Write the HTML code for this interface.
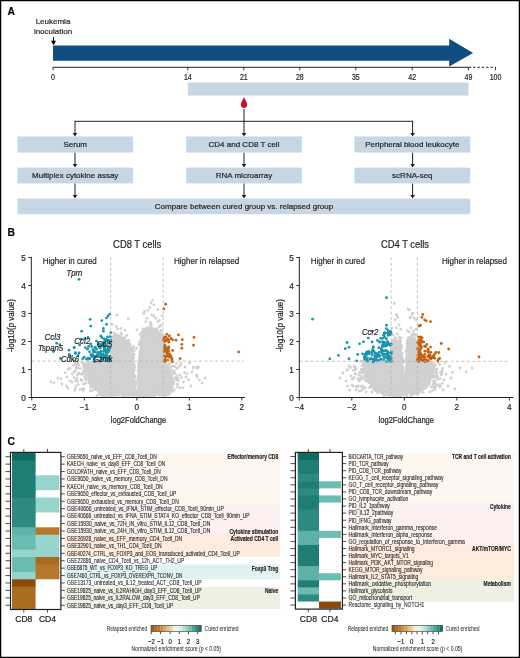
<!DOCTYPE html>
<html><head><meta charset="utf-8"><style>
html,body{margin:0;padding:0;background:#fff;}
svg{display:block;will-change:transform;font-family:"Liberation Sans", sans-serif;}
text{stroke:#231f20;stroke-width:0.2px;}
</style></head><body>
<svg width="520" height="658" viewBox="0 0 520 658">
<rect x="0.6" y="0.6" width="518.8" height="656.8" fill="none" stroke="#000" stroke-width="1.3"/>
<text x="7.5" y="14.6" font-size="10.3" text-anchor="start" font-weight="bold" font-style="normal" fill="#000" >A</text>
<text x="53" y="24.4" font-size="8" text-anchor="middle" font-weight="normal" font-style="normal" fill="#231f20" >Leukemia</text>
<text x="53" y="34.1" font-size="8" text-anchor="middle" font-weight="normal" font-style="normal" fill="#231f20" >inoculation</text>
<line x1="53.5" y1="37.2" x2="53.5" y2="42" stroke="#000" stroke-width="1"/>
<path d="M51,40.7 L56,40.7 L53.5,45.2 Z" fill="#000"/>
<path d="M53,45.4 L449.2,45.4 L449.2,38.8 L473.1,53 L449.2,66.6 L449.2,60.8 L53,60.8 Z" fill="#104e81"/>
<line x1="53" y1="67.3" x2="468.6" y2="67.3" stroke="#231f20" stroke-width="1"/>
<line x1="468.6" y1="67.3" x2="495.5" y2="67.3" stroke="#231f20" stroke-width="1" stroke-dasharray="2.4,2"/>
<line x1="53" y1="67" x2="53" y2="70.3" stroke="#231f20" stroke-width="0.9"/>
<text x="53" y="80" font-size="8.6" text-anchor="middle" font-weight="normal" font-style="normal" fill="#231f20" textLength="3.9" lengthAdjust="spacingAndGlyphs" >0</text>
<line x1="187.8" y1="67" x2="187.8" y2="70.3" stroke="#231f20" stroke-width="0.9"/>
<text x="187.8" y="80" font-size="8.6" text-anchor="middle" font-weight="normal" font-style="normal" fill="#231f20" textLength="7.8" lengthAdjust="spacingAndGlyphs" >14</text>
<line x1="243.8" y1="67" x2="243.8" y2="70.3" stroke="#231f20" stroke-width="0.9"/>
<text x="243.8" y="80" font-size="8.6" text-anchor="middle" font-weight="normal" font-style="normal" fill="#231f20" textLength="7.8" lengthAdjust="spacingAndGlyphs" >21</text>
<line x1="299.8" y1="67" x2="299.8" y2="70.3" stroke="#231f20" stroke-width="0.9"/>
<text x="299.8" y="80" font-size="8.6" text-anchor="middle" font-weight="normal" font-style="normal" fill="#231f20" textLength="7.8" lengthAdjust="spacingAndGlyphs" >28</text>
<line x1="355.8" y1="67" x2="355.8" y2="70.3" stroke="#231f20" stroke-width="0.9"/>
<text x="355.8" y="80" font-size="8.6" text-anchor="middle" font-weight="normal" font-style="normal" fill="#231f20" textLength="7.8" lengthAdjust="spacingAndGlyphs" >35</text>
<line x1="412.2" y1="67" x2="412.2" y2="70.3" stroke="#231f20" stroke-width="0.9"/>
<text x="412.2" y="80" font-size="8.6" text-anchor="middle" font-weight="normal" font-style="normal" fill="#231f20" textLength="7.8" lengthAdjust="spacingAndGlyphs" >42</text>
<line x1="468.4" y1="67" x2="468.4" y2="70.3" stroke="#231f20" stroke-width="0.9"/>
<text x="468.4" y="80" font-size="8.6" text-anchor="middle" font-weight="normal" font-style="normal" fill="#231f20" textLength="7.8" lengthAdjust="spacingAndGlyphs" >49</text>
<line x1="495.5" y1="67" x2="495.5" y2="70.3" stroke="#231f20" stroke-width="0.9"/>
<text x="495.5" y="80" font-size="8.6" text-anchor="middle" font-weight="normal" font-style="normal" fill="#231f20" textLength="11.7" lengthAdjust="spacingAndGlyphs" >100</text>
<rect x="187.8" y="82.5" width="280.6" height="13" fill="#c6d6e3"/>
<path d="M244,97 C244.9,100 247.2,102.2 247.2,104.8 C247.2,106.8 245.8,108 244,108 C242.2,108 240.8,106.8 240.8,104.8 C240.8,102.2 243.1,100 244,97 Z" fill="#c8102e"/>
<line x1="244" y1="109" x2="244" y2="121.3" stroke="#231f20" stroke-width="1"/>
<line x1="75" y1="121.3" x2="412.6" y2="121.3" stroke="#231f20" stroke-width="1"/>
<line x1="75" y1="120.8" x2="75" y2="133.5" stroke="#231f20" stroke-width="1"/>
<path d="M72.7,132.9 L77.3,132.9 L75,136.5 Z" fill="#231f20"/>
<line x1="75" y1="152.5" x2="75" y2="164.6" stroke="#231f20" stroke-width="1"/>
<path d="M72.7,164.0 L77.3,164.0 L75,167.6 Z" fill="#231f20"/>
<line x1="75" y1="183.4" x2="75" y2="195.6" stroke="#231f20" stroke-width="1"/>
<path d="M72.7,195.0 L77.3,195.0 L75,198.6 Z" fill="#231f20"/>
<line x1="244" y1="120.8" x2="244" y2="133.5" stroke="#231f20" stroke-width="1"/>
<path d="M241.7,132.9 L246.3,132.9 L244,136.5 Z" fill="#231f20"/>
<line x1="244" y1="152.5" x2="244" y2="164.6" stroke="#231f20" stroke-width="1"/>
<path d="M241.7,164.0 L246.3,164.0 L244,167.6 Z" fill="#231f20"/>
<line x1="244" y1="183.4" x2="244" y2="195.6" stroke="#231f20" stroke-width="1"/>
<path d="M241.7,195.0 L246.3,195.0 L244,198.6 Z" fill="#231f20"/>
<line x1="412.6" y1="120.8" x2="412.6" y2="133.5" stroke="#231f20" stroke-width="1"/>
<path d="M410.3,132.9 L414.90000000000003,132.9 L412.6,136.5 Z" fill="#231f20"/>
<line x1="412.6" y1="152.5" x2="412.6" y2="164.6" stroke="#231f20" stroke-width="1"/>
<path d="M410.3,164.0 L414.90000000000003,164.0 L412.6,167.6 Z" fill="#231f20"/>
<line x1="412.6" y1="183.4" x2="412.6" y2="195.6" stroke="#231f20" stroke-width="1"/>
<path d="M410.3,195.0 L414.90000000000003,195.0 L412.6,198.6 Z" fill="#231f20"/>
<rect x="17.5" y="136.5" width="115.5" height="16.0" fill="#c6d6e3"/>
<text x="75.25" y="147.4" font-size="8" text-anchor="middle" font-weight="normal" font-style="normal" fill="#231f20" >Serum</text>
<rect x="186.2" y="136.5" width="115.60000000000002" height="16.0" fill="#c6d6e3"/>
<text x="244.0" y="147.4" font-size="8" text-anchor="middle" font-weight="normal" font-style="normal" fill="#231f20" >CD4 and CD8 T cell</text>
<rect x="354.5" y="136.5" width="115.69999999999999" height="16.0" fill="#c6d6e3"/>
<text x="412.35" y="147.4" font-size="8" text-anchor="middle" font-weight="normal" font-style="normal" fill="#231f20" >Peripheral blood leukocyte</text>
<rect x="17.5" y="167.6" width="115.5" height="15.800000000000011" fill="#c6d6e3"/>
<text x="75.25" y="178.4" font-size="8" text-anchor="middle" font-weight="normal" font-style="normal" fill="#231f20" >Multiplex cytokine assay</text>
<rect x="186.2" y="167.6" width="115.60000000000002" height="15.800000000000011" fill="#c6d6e3"/>
<text x="244.0" y="178.4" font-size="8" text-anchor="middle" font-weight="normal" font-style="normal" fill="#231f20" >RNA microarray</text>
<rect x="354.5" y="167.6" width="115.69999999999999" height="15.800000000000011" fill="#c6d6e3"/>
<text x="412.35" y="178.4" font-size="8" text-anchor="middle" font-weight="normal" font-style="normal" fill="#231f20" >scRNA-seq</text>
<rect x="17.5" y="198.6" width="452.7" height="15.6" fill="#c6d6e3"/>
<text x="244" y="209.3" font-size="8" text-anchor="middle" font-weight="normal" font-style="normal" fill="#231f20" >Compare between cured group vs. relapsed group</text>
<text x="7.5" y="236.0" font-size="10.3" text-anchor="start" font-weight="bold" font-style="normal" fill="#000" >B</text>
<g fill="#d1d1d1">
<polygon points="104,395 96,387 89,378 85.5,368 89,362.5 104,362 109,358 111,348 113,340 116,337 122.8,339.5 127.9,342.1 131.1,348.6 133.2,357 134.4,366.7 135.7,387.3 136.3,389 137.2,389 137.6,366.7 139,360 139.8,348 141,338 143.5,331 148,328.5 153,329 157.5,332 162.6,336 162.8,361.5 166.7,369.3 171.8,379.6 170.5,392.5 164,394 140.8,395.5 115,394 100,395"/>
<circle cx="87.0" cy="374.6" r="1.4"/><circle cx="89.8" cy="379.4" r="1.4"/><circle cx="137.8" cy="378.9" r="1.4"/><circle cx="137.6" cy="381.6" r="1.4"/><circle cx="111.8" cy="337.8" r="1.4"/><circle cx="144.2" cy="331.1" r="1.4"/><circle cx="93.2" cy="382.0" r="1.4"/><circle cx="101.7" cy="362.7" r="1.4"/><circle cx="162.7" cy="395.3" r="1.4"/><circle cx="161.8" cy="340.3" r="1.4"/><circle cx="89.7" cy="378.3" r="1.4"/><circle cx="162.0" cy="354.8" r="1.4"/><circle cx="148.3" cy="328.9" r="1.4"/><circle cx="169.5" cy="392.0" r="1.4"/><circle cx="143.5" cy="329.6" r="1.4"/><circle cx="166.8" cy="373.7" r="1.4"/><circle cx="90.2" cy="363.2" r="1.4"/><circle cx="103.6" cy="362.0" r="1.4"/><circle cx="162.8" cy="348.7" r="1.4"/><circle cx="151.3" cy="328.4" r="1.4"/><circle cx="154.6" cy="394.3" r="1.4"/><circle cx="164.1" cy="349.1" r="1.4"/><circle cx="129.3" cy="348.1" r="1.4"/><circle cx="97.7" cy="389.4" r="1.4"/><circle cx="92.9" cy="363.0" r="1.4"/><circle cx="95.8" cy="363.3" r="1.4"/><circle cx="143.2" cy="395.9" r="1.4"/><circle cx="142.6" cy="336.1" r="1.4"/><circle cx="144.7" cy="396.3" r="1.4"/><circle cx="103.8" cy="362.7" r="1.4"/><circle cx="114.8" cy="337.2" r="1.4"/><circle cx="126.9" cy="341.1" r="1.4"/><circle cx="132.8" cy="376.1" r="1.4"/><circle cx="161.4" cy="357.9" r="1.4"/><circle cx="172.2" cy="386.8" r="1.4"/><circle cx="135.2" cy="385.7" r="1.4"/><circle cx="163.0" cy="337.9" r="1.4"/><circle cx="112.4" cy="345.1" r="1.4"/><circle cx="91.9" cy="381.0" r="1.4"/><circle cx="87.1" cy="365.4" r="1.4"/><circle cx="140.8" cy="395.1" r="1.4"/><circle cx="121.9" cy="340.2" r="1.4"/><circle cx="86.9" cy="365.7" r="1.4"/><circle cx="157.6" cy="394.6" r="1.4"/><circle cx="113.1" cy="394.0" r="1.4"/><circle cx="142.0" cy="339.7" r="1.4"/><circle cx="104.7" cy="393.6" r="1.4"/><circle cx="124.9" cy="341.3" r="1.4"/><circle cx="169.5" cy="384.8" r="1.4"/><circle cx="134.2" cy="364.7" r="1.4"/><circle cx="102.5" cy="393.5" r="1.4"/><circle cx="161.3" cy="393.5" r="1.4"/><circle cx="96.7" cy="388.6" r="1.4"/><circle cx="163.8" cy="358.4" r="1.4"/><circle cx="121.1" cy="394.0" r="1.4"/><circle cx="135.1" cy="376.1" r="1.4"/><circle cx="111.3" cy="349.9" r="1.4"/><circle cx="132.5" cy="394.0" r="1.4"/><circle cx="162.8" cy="344.1" r="1.4"/><circle cx="164.2" cy="346.3" r="1.4"/><circle cx="170.2" cy="377.7" r="1.4"/><circle cx="169.7" cy="392.9" r="1.4"/><circle cx="105.4" cy="395.2" r="1.4"/><circle cx="115.0" cy="393.4" r="1.4"/><circle cx="96.2" cy="364.1" r="1.4"/><circle cx="166.7" cy="395.1" r="1.4"/><circle cx="102.6" cy="394.0" r="1.4"/><circle cx="141.3" cy="337.7" r="1.4"/><circle cx="105.7" cy="393.6" r="1.4"/><circle cx="118.0" cy="395.1" r="1.4"/><circle cx="158.7" cy="395.1" r="1.4"/><circle cx="131.5" cy="351.3" r="1.4"/><circle cx="124.3" cy="340.8" r="1.4"/><circle cx="127.7" cy="395.7" r="1.4"/><circle cx="149.2" cy="327.9" r="1.4"/><circle cx="124.3" cy="394.6" r="1.4"/><circle cx="141.0" cy="346.7" r="1.4"/><circle cx="111.7" cy="353.4" r="1.4"/><circle cx="142.1" cy="334.8" r="1.4"/><circle cx="142.6" cy="334.5" r="1.4"/><circle cx="169.9" cy="385.3" r="1.4"/><circle cx="172.6" cy="380.4" r="1.4"/><circle cx="156.6" cy="332.2" r="1.4"/><circle cx="161.6" cy="359.2" r="1.4"/><circle cx="139.9" cy="362.3" r="1.4"/><circle cx="141.1" cy="395.2" r="1.4"/><circle cx="144.3" cy="333.2" r="1.4"/><circle cx="99.3" cy="362.9" r="1.4"/><circle cx="87.9" cy="375.2" r="1.4"/><circle cx="163.2" cy="348.4" r="1.4"/><circle cx="113.8" cy="340.3" r="1.4"/><circle cx="140.9" cy="359.5" r="1.4"/><circle cx="134.6" cy="367.1" r="1.4"/><circle cx="167.6" cy="368.7" r="1.4"/><circle cx="138.3" cy="376.4" r="1.4"/><circle cx="160.7" cy="334.8" r="1.4"/><circle cx="102.0" cy="392.3" r="1.4"/><circle cx="87.8" cy="364.5" r="1.4"/><circle cx="170.9" cy="388.3" r="1.4"/><circle cx="138.9" cy="381.9" r="1.4"/><circle cx="125.9" cy="342.2" r="1.4"/><circle cx="144.1" cy="330.2" r="1.4"/><circle cx="89.8" cy="378.6" r="1.4"/><circle cx="89.2" cy="374.3" r="1.4"/><circle cx="168.9" cy="394.2" r="1.4"/><circle cx="89.3" cy="376.0" r="1.4"/><circle cx="132.2" cy="365.5" r="1.4"/><circle cx="128.4" cy="342.8" r="1.4"/><circle cx="118.3" cy="338.0" r="1.4"/><circle cx="92.1" cy="382.4" r="1.4"/><circle cx="132.5" cy="353.3" r="1.4"/><circle cx="139.7" cy="355.8" r="1.4"/><circle cx="99.4" cy="390.6" r="1.4"/><circle cx="167.5" cy="371.9" r="1.4"/><circle cx="138.6" cy="363.8" r="1.4"/><circle cx="160.0" cy="394.7" r="1.4"/><circle cx="154.5" cy="395.3" r="1.4"/><circle cx="163.7" cy="356.9" r="1.4"/><circle cx="155.9" cy="393.1" r="1.4"/><circle cx="97.4" cy="363.0" r="1.4"/><circle cx="123.8" cy="340.3" r="1.4"/><circle cx="154.1" cy="393.6" r="1.4"/><circle cx="130.0" cy="347.1" r="1.4"/><circle cx="138.1" cy="370.4" r="1.4"/><circle cx="128.6" cy="340.5" r="1.4"/><circle cx="141.1" cy="340.7" r="1.4"/><circle cx="132.9" cy="355.8" r="1.4"/><circle cx="134.2" cy="381.7" r="1.4"/><circle cx="111.1" cy="347.1" r="1.4"/><circle cx="127.2" cy="341.8" r="1.4"/><circle cx="94.6" cy="384.2" r="1.4"/><circle cx="114.9" cy="336.4" r="1.4"/><circle cx="170.0" cy="376.4" r="1.4"/><circle cx="138.8" cy="396.0" r="1.4"/><circle cx="102.4" cy="396.2" r="1.4"/><circle cx="164.5" cy="341.5" r="1.4"/><circle cx="133.7" cy="394.0" r="1.4"/><circle cx="164.3" cy="395.0" r="1.4"/><circle cx="140.4" cy="351.9" r="1.4"/><circle cx="156.6" cy="393.3" r="1.4"/><circle cx="162.5" cy="354.6" r="1.4"/><circle cx="96.7" cy="387.8" r="1.4"/><circle cx="88.6" cy="363.1" r="1.4"/><circle cx="161.1" cy="334.6" r="1.4"/><circle cx="140.9" cy="358.9" r="1.4"/><circle cx="169.3" cy="377.0" r="1.4"/><circle cx="164.2" cy="347.4" r="1.4"/><circle cx="123.2" cy="339.7" r="1.4"/><circle cx="167.9" cy="372.5" r="1.4"/><circle cx="103.7" cy="394.7" r="1.4"/><circle cx="158.8" cy="332.9" r="1.4"/><circle cx="102.2" cy="363.7" r="1.4"/><circle cx="132.3" cy="353.9" r="1.4"/><circle cx="89.4" cy="380.2" r="1.4"/><circle cx="162.4" cy="357.9" r="1.4"/><circle cx="92.4" cy="362.0" r="1.4"/><circle cx="104.0" cy="394.7" r="1.4"/><circle cx="138.7" cy="367.3" r="1.4"/><circle cx="115.9" cy="395.3" r="1.4"/><circle cx="97.8" cy="361.8" r="1.4"/><circle cx="97.4" cy="361.2" r="1.4"/><circle cx="136.5" cy="394.6" r="1.4"/><circle cx="132.6" cy="395.1" r="1.4"/><circle cx="102.0" cy="394.1" r="1.4"/><circle cx="132.8" cy="353.8" r="1.4"/><circle cx="133.4" cy="358.0" r="1.4"/><circle cx="171.2" cy="377.4" r="1.4"/><circle cx="122.0" cy="392.3" r="1.4"/><circle cx="130.5" cy="349.5" r="1.4"/><circle cx="102.8" cy="394.5" r="1.4"/><circle cx="87.7" cy="364.5" r="1.4"/><circle cx="119.2" cy="395.0" r="1.4"/><circle cx="140.0" cy="352.0" r="1.4"/><circle cx="113.1" cy="393.0" r="1.4"/><circle cx="166.4" cy="372.4" r="1.4"/><circle cx="162.6" cy="341.8" r="1.4"/><circle cx="123.1" cy="395.2" r="1.4"/><circle cx="134.0" cy="369.5" r="1.4"/><circle cx="104.4" cy="396.2" r="1.4"/><circle cx="131.2" cy="352.3" r="1.4"/><circle cx="129.1" cy="394.9" r="1.4"/><circle cx="130.8" cy="394.8" r="1.4"/><circle cx="99.6" cy="362.6" r="1.4"/><circle cx="122.6" cy="339.5" r="1.4"/><circle cx="169.9" cy="378.0" r="1.4"/><circle cx="88.8" cy="380.9" r="1.4"/><circle cx="93.1" cy="362.3" r="1.4"/><circle cx="145.5" cy="396.0" r="1.4"/><circle cx="120.3" cy="339.6" r="1.4"/><circle cx="113.7" cy="392.5" r="1.4"/><circle cx="100.0" cy="389.8" r="1.4"/><circle cx="132.2" cy="395.3" r="1.4"/><circle cx="102.2" cy="396.4" r="1.4"/><circle cx="160.3" cy="392.2" r="1.4"/><circle cx="121.7" cy="339.3" r="1.4"/><circle cx="138.9" cy="344.8" r="1.4"/><circle cx="165.2" cy="367.1" r="1.4"/><circle cx="171.1" cy="391.1" r="1.4"/><circle cx="162.5" cy="342.3" r="1.4"/><circle cx="121.3" cy="338.2" r="1.4"/><circle cx="90.7" cy="363.0" r="1.4"/><circle cx="147.6" cy="329.0" r="1.4"/><circle cx="155.3" cy="330.0" r="1.4"/><circle cx="138.9" cy="368.6" r="1.4"/><circle cx="137.1" cy="395.4" r="1.4"/><circle cx="122.3" cy="338.4" r="1.4"/><circle cx="133.9" cy="355.1" r="1.4"/><circle cx="162.1" cy="352.6" r="1.4"/><circle cx="163.3" cy="349.4" r="1.4"/><circle cx="94.9" cy="387.1" r="1.4"/><circle cx="163.3" cy="356.8" r="1.4"/><circle cx="168.4" cy="374.0" r="1.4"/><circle cx="106.1" cy="396.3" r="1.4"/><circle cx="115.7" cy="339.2" r="1.4"/><circle cx="132.7" cy="350.3" r="1.4"/><circle cx="163.2" cy="348.8" r="1.4"/><circle cx="100.6" cy="362.2" r="1.4"/><circle cx="170.3" cy="372.0" r="1.4"/><circle cx="171.6" cy="376.7" r="1.4"/><circle cx="134.6" cy="381.1" r="1.4"/><circle cx="109.1" cy="395.3" r="1.4"/><circle cx="160.6" cy="393.3" r="1.4"/><circle cx="91.1" cy="382.1" r="1.4"/><circle cx="125.3" cy="395.5" r="1.4"/><circle cx="134.0" cy="395.2" r="1.4"/><circle cx="163.7" cy="393.7" r="1.4"/><circle cx="97.3" cy="386.9" r="1.4"/><circle cx="124.0" cy="338.0" r="1.4"/><circle cx="134.0" cy="368.7" r="1.4"/><circle cx="159.0" cy="334.8" r="1.4"/><circle cx="133.3" cy="358.3" r="1.4"/><circle cx="172.9" cy="378.7" r="1.4"/><circle cx="117.1" cy="394.2" r="1.4"/><circle cx="140.6" cy="363.2" r="1.4"/><circle cx="135.4" cy="384.4" r="1.4"/><circle cx="139.7" cy="357.1" r="1.4"/><circle cx="166.8" cy="391.5" r="1.4"/><circle cx="170.5" cy="385.0" r="1.4"/><circle cx="132.4" cy="360.6" r="1.4"/><circle cx="87.6" cy="374.2" r="1.4"/><circle cx="121.1" cy="338.9" r="1.4"/><circle cx="138.7" cy="395.3" r="1.4"/><circle cx="87.5" cy="371.5" r="1.4"/><circle cx="163.7" cy="364.8" r="1.4"/><circle cx="171.3" cy="375.7" r="1.4"/><circle cx="93.3" cy="361.7" r="1.4"/><circle cx="142.2" cy="332.6" r="1.4"/><circle cx="111.1" cy="348.5" r="1.4"/><circle cx="131.3" cy="363.6" r="1.4"/><circle cx="139.7" cy="354.2" r="1.4"/><circle cx="163.1" cy="344.6" r="1.4"/><circle cx="139.0" cy="362.3" r="1.4"/><circle cx="127.6" cy="394.9" r="1.4"/><circle cx="93.1" cy="364.9" r="1.4"/><circle cx="149.2" cy="328.1" r="1.4"/><circle cx="143.4" cy="395.5" r="1.4"/><circle cx="171.5" cy="387.1" r="1.4"/><circle cx="152.4" cy="328.5" r="1.4"/><circle cx="122.2" cy="338.9" r="1.4"/><circle cx="112.3" cy="346.3" r="1.4"/><circle cx="163.1" cy="354.4" r="1.4"/><circle cx="111.8" cy="345.0" r="1.4"/><circle cx="89.8" cy="378.5" r="1.4"/><circle cx="129.3" cy="349.0" r="1.4"/><circle cx="132.3" cy="356.3" r="1.4"/><circle cx="139.5" cy="382.4" r="1.4"/><circle cx="113.6" cy="346.2" r="1.4"/><circle cx="137.8" cy="381.4" r="1.4"/><circle cx="137.5" cy="395.5" r="1.4"/><circle cx="98.9" cy="390.8" r="1.4"/><circle cx="129.6" cy="395.5" r="1.4"/><circle cx="134.5" cy="377.6" r="1.4"/><circle cx="127.9" cy="346.4" r="1.4"/><circle cx="86.8" cy="363.2" r="1.4"/><circle cx="108.1" cy="395.0" r="1.4"/><circle cx="117.6" cy="393.9" r="1.4"/><circle cx="92.0" cy="380.3" r="1.4"/><circle cx="129.1" cy="393.6" r="1.4"/><circle cx="138.0" cy="387.5" r="1.4"/><circle cx="120.4" cy="336.6" r="1.4"/><circle cx="92.3" cy="383.6" r="1.4"/><circle cx="94.8" cy="384.7" r="1.4"/><circle cx="152.6" cy="329.2" r="1.4"/><circle cx="131.4" cy="355.2" r="1.4"/><circle cx="138.8" cy="377.3" r="1.4"/><circle cx="139.2" cy="360.5" r="1.4"/><circle cx="170.3" cy="388.2" r="1.4"/><circle cx="138.5" cy="364.9" r="1.4"/><circle cx="138.3" cy="380.4" r="1.4"/><circle cx="141.0" cy="351.7" r="1.4"/><circle cx="86.5" cy="369.8" r="1.4"/><circle cx="140.7" cy="351.3" r="1.4"/><circle cx="149.0" cy="395.0" r="1.4"/><circle cx="141.3" cy="357.3" r="1.4"/><circle cx="87.7" cy="378.5" r="1.4"/><circle cx="163.0" cy="395.0" r="1.4"/><circle cx="125.0" cy="395.3" r="1.4"/><circle cx="111.1" cy="355.7" r="1.4"/><circle cx="163.2" cy="353.7" r="1.4"/><circle cx="171.7" cy="390.6" r="1.4"/><circle cx="161.3" cy="340.1" r="1.4"/><circle cx="140.1" cy="334.4" r="1.4"/><circle cx="89.3" cy="364.3" r="1.4"/><circle cx="99.7" cy="394.6" r="1.4"/><circle cx="170.9" cy="382.8" r="1.4"/><circle cx="171.5" cy="376.0" r="1.4"/><circle cx="121.1" cy="337.4" r="1.4"/><circle cx="148.8" cy="327.9" r="1.4"/><circle cx="104.1" cy="394.7" r="1.4"/><circle cx="157.7" cy="333.5" r="1.4"/><circle cx="134.0" cy="395.6" r="1.4"/><circle cx="162.7" cy="344.6" r="1.4"/><circle cx="112.6" cy="338.6" r="1.4"/><circle cx="110.7" cy="345.2" r="1.4"/><circle cx="98.4" cy="361.9" r="1.4"/><circle cx="104.1" cy="362.8" r="1.4"/><circle cx="142.5" cy="394.4" r="1.4"/><circle cx="127.8" cy="341.4" r="1.4"/><circle cx="142.0" cy="334.1" r="1.4"/><circle cx="139.0" cy="374.5" r="1.4"/><circle cx="121.5" cy="338.7" r="1.4"/><circle cx="139.7" cy="344.1" r="1.4"/><circle cx="90.1" cy="379.2" r="1.4"/><circle cx="141.9" cy="336.6" r="1.4"/><circle cx="162.9" cy="339.8" r="1.4"/><circle cx="132.8" cy="356.0" r="1.4"/><circle cx="136.1" cy="393.7" r="1.4"/><circle cx="103.3" cy="392.0" r="1.4"/><circle cx="114.8" cy="339.3" r="1.4"/><circle cx="93.5" cy="386.3" r="1.4"/><circle cx="163.7" cy="358.4" r="1.4"/><circle cx="125.9" cy="341.2" r="1.4"/><circle cx="169.9" cy="391.0" r="1.4"/><circle cx="163.3" cy="340.4" r="1.4"/><circle cx="139.9" cy="395.5" r="1.4"/><circle cx="116.9" cy="335.0" r="1.4"/><circle cx="169.2" cy="378.1" r="1.4"/><circle cx="134.0" cy="364.7" r="1.4"/><circle cx="162.1" cy="335.1" r="1.4"/><circle cx="101.7" cy="395.1" r="1.4"/><circle cx="163.5" cy="359.7" r="1.4"/><circle cx="166.0" cy="369.0" r="1.4"/><circle cx="111.9" cy="343.0" r="1.4"/><circle cx="128.2" cy="394.9" r="1.4"/><circle cx="89.1" cy="363.3" r="1.4"/><circle cx="100.5" cy="362.2" r="1.4"/><circle cx="161.7" cy="357.6" r="1.4"/><circle cx="169.9" cy="373.8" r="1.4"/><circle cx="136.9" cy="396.0" r="1.4"/><circle cx="127.2" cy="394.5" r="1.4"/><circle cx="111.8" cy="345.6" r="1.4"/><circle cx="151.3" cy="393.5" r="1.4"/><circle cx="158.3" cy="393.7" r="1.4"/><circle cx="88.3" cy="366.7" r="1.4"/><circle cx="111.1" cy="346.6" r="1.4"/><circle cx="98.6" cy="390.5" r="1.4"/><circle cx="164.7" cy="367.2" r="1.4"/><circle cx="107.0" cy="394.4" r="1.4"/><circle cx="160.5" cy="333.7" r="1.4"/><circle cx="162.8" cy="362.8" r="1.4"/><circle cx="147.1" cy="396.2" r="1.4"/><circle cx="171.7" cy="381.7" r="1.4"/><circle cx="130.6" cy="348.4" r="1.4"/><circle cx="140.4" cy="356.5" r="1.4"/><circle cx="87.2" cy="370.4" r="1.4"/><circle cx="170.0" cy="389.9" r="1.4"/><circle cx="134.5" cy="389.8" r="1.4"/><circle cx="86.4" cy="370.0" r="1.4"/><circle cx="111.5" cy="347.4" r="1.4"/><circle cx="115.0" cy="337.4" r="1.4"/><circle cx="171.5" cy="377.6" r="1.4"/><circle cx="134.3" cy="370.1" r="1.4"/><circle cx="151.5" cy="393.3" r="1.4"/><circle cx="147.8" cy="329.9" r="1.4"/><circle cx="137.3" cy="395.9" r="1.4"/><circle cx="131.6" cy="351.1" r="1.4"/><circle cx="105.1" cy="362.1" r="1.4"/><circle cx="133.2" cy="361.7" r="1.4"/><circle cx="169.4" cy="372.2" r="1.4"/><circle cx="85.1" cy="367.1" r="1.4"/><circle cx="169.5" cy="391.6" r="1.4"/><circle cx="111.5" cy="345.3" r="1.4"/><circle cx="99.4" cy="361.5" r="1.4"/><circle cx="170.2" cy="374.1" r="1.4"/><circle cx="145.3" cy="328.9" r="1.4"/><circle cx="114.5" cy="336.1" r="1.4"/><circle cx="170.6" cy="384.1" r="1.4"/><circle cx="162.0" cy="353.2" r="1.4"/><circle cx="132.9" cy="356.6" r="1.4"/><circle cx="137.6" cy="382.3" r="1.4"/><circle cx="162.6" cy="337.1" r="1.4"/><circle cx="163.3" cy="352.2" r="1.4"/><circle cx="162.8" cy="344.1" r="1.4"/><circle cx="139.4" cy="358.6" r="1.4"/><circle cx="141.8" cy="340.9" r="1.4"/><circle cx="116.9" cy="394.1" r="1.4"/><circle cx="144.0" cy="329.5" r="1.4"/><circle cx="111.6" cy="343.0" r="1.4"/><circle cx="173.6" cy="383.9" r="1.4"/><circle cx="126.9" cy="343.1" r="1.4"/><circle cx="116.9" cy="394.0" r="1.4"/><circle cx="166.7" cy="393.7" r="1.4"/><circle cx="161.4" cy="338.0" r="1.4"/><circle cx="115.1" cy="338.6" r="1.4"/><circle cx="163.4" cy="337.7" r="1.4"/><circle cx="94.7" cy="361.5" r="1.4"/><circle cx="149.6" cy="395.9" r="1.4"/><circle cx="122.4" cy="339.9" r="1.4"/><circle cx="103.2" cy="393.5" r="1.4"/><circle cx="119.7" cy="339.6" r="1.4"/><circle cx="91.4" cy="377.8" r="1.4"/><circle cx="172.0" cy="391.0" r="1.4"/><circle cx="162.8" cy="337.4" r="1.4"/><circle cx="112.9" cy="393.5" r="1.4"/><circle cx="87.7" cy="365.8" r="1.4"/><circle cx="170.8" cy="387.2" r="1.4"/><circle cx="130.6" cy="394.3" r="1.4"/><circle cx="133.8" cy="394.1" r="1.4"/><circle cx="164.1" cy="349.0" r="1.4"/><circle cx="154.4" cy="396.1" r="1.4"/><circle cx="140.2" cy="342.9" r="1.4"/><circle cx="137.4" cy="395.1" r="1.4"/><circle cx="117.1" cy="338.0" r="1.4"/><circle cx="89.5" cy="379.4" r="1.4"/><circle cx="147.2" cy="395.3" r="1.4"/><circle cx="152.6" cy="395.4" r="1.4"/><circle cx="127.1" cy="395.0" r="1.4"/><circle cx="155.5" cy="328.9" r="1.4"/><circle cx="171.0" cy="374.9" r="1.4"/><circle cx="176.1" cy="380.0" r="1.4"/><circle cx="147.5" cy="396.3" r="1.4"/><circle cx="86.2" cy="366.5" r="1.4"/><circle cx="125.1" cy="337.6" r="1.4"/><circle cx="169.3" cy="394.0" r="1.4"/><circle cx="141.8" cy="332.3" r="1.4"/><circle cx="163.4" cy="348.3" r="1.4"/><circle cx="86.4" cy="371.0" r="1.4"/><circle cx="165.9" cy="361.4" r="1.4"/><circle cx="150.9" cy="324.2" r="1.4"/><circle cx="168.0" cy="393.9" r="1.4"/><circle cx="150.0" cy="396.4" r="1.4"/><circle cx="171.6" cy="384.7" r="1.4"/><circle cx="155.2" cy="329.4" r="1.4"/><circle cx="160.0" cy="325.7" r="1.4"/><circle cx="172.7" cy="391.4" r="1.4"/><circle cx="99.2" cy="392.9" r="1.4"/><circle cx="150.4" cy="323.9" r="1.4"/><circle cx="90.6" cy="383.7" r="1.4"/><circle cx="114.4" cy="337.6" r="1.4"/><circle cx="114.6" cy="334.5" r="1.4"/><circle cx="88.6" cy="361.1" r="1.4"/><circle cx="163.4" cy="345.1" r="1.4"/><circle cx="96.4" cy="389.0" r="1.4"/><circle cx="162.0" cy="395.5" r="1.4"/><circle cx="113.1" cy="336.7" r="1.4"/><circle cx="86.2" cy="375.3" r="1.4"/><circle cx="168.5" cy="366.0" r="1.4"/><circle cx="91.5" cy="384.9" r="1.4"/><circle cx="137.0" cy="329.9" r="1.4"/><circle cx="99.6" cy="394.7" r="1.4"/><circle cx="136.7" cy="348.2" r="1.4"/><circle cx="118.4" cy="337.1" r="1.4"/><circle cx="110.6" cy="395.5" r="1.4"/><circle cx="99.0" cy="393.8" r="1.4"/><circle cx="147.3" cy="328.0" r="1.4"/><circle cx="134.4" cy="350.6" r="1.4"/><circle cx="165.4" cy="366.6" r="1.4"/><circle cx="171.6" cy="366.7" r="1.4"/><circle cx="84.9" cy="370.0" r="1.4"/><circle cx="103.9" cy="395.7" r="1.4"/><circle cx="84.6" cy="366.9" r="1.4"/><circle cx="163.3" cy="339.8" r="1.4"/><circle cx="124.3" cy="340.1" r="1.4"/><circle cx="111.8" cy="338.2" r="1.4"/><circle cx="100.4" cy="394.4" r="1.4"/><circle cx="85.3" cy="372.3" r="1.4"/><circle cx="146.7" cy="395.8" r="1.4"/><circle cx="93.1" cy="383.3" r="1.4"/><circle cx="173.7" cy="382.1" r="1.4"/><circle cx="146.0" cy="395.3" r="1.4"/><circle cx="141.9" cy="332.0" r="1.4"/><circle cx="98.9" cy="390.2" r="1.4"/><circle cx="151.1" cy="325.7" r="1.4"/><circle cx="161.6" cy="331.1" r="1.4"/><circle cx="168.4" cy="364.8" r="1.4"/><circle cx="177.4" cy="387.1" r="1.4"/><circle cx="159.3" cy="326.9" r="1.4"/><circle cx="177.6" cy="384.3" r="1.4"/><circle cx="170.9" cy="390.0" r="1.4"/><circle cx="106.9" cy="395.7" r="1.4"/><circle cx="96.9" cy="395.6" r="1.4"/><circle cx="91.7" cy="385.9" r="1.4"/><circle cx="126.8" cy="335.4" r="1.4"/><circle cx="101.4" cy="361.9" r="1.4"/><circle cx="115.1" cy="395.4" r="1.4"/><circle cx="94.1" cy="389.2" r="1.4"/><circle cx="139.7" cy="341.9" r="1.4"/><circle cx="169.3" cy="367.8" r="1.4"/><circle cx="167.0" cy="369.4" r="1.4"/><circle cx="83.2" cy="371.1" r="1.4"/><circle cx="173.0" cy="371.9" r="1.4"/><circle cx="133.5" cy="358.3" r="1.4"/><circle cx="166.9" cy="368.1" r="1.4"/><circle cx="175.6" cy="378.3" r="1.4"/><circle cx="118.7" cy="335.6" r="1.4"/><circle cx="114.7" cy="394.8" r="1.4"/><circle cx="172.7" cy="383.3" r="1.4"/><circle cx="157.0" cy="329.0" r="1.4"/><circle cx="164.6" cy="394.6" r="1.4"/><circle cx="160.8" cy="330.5" r="1.4"/><circle cx="103.1" cy="396.2" r="1.4"/><circle cx="134.2" cy="354.1" r="1.4"/><circle cx="133.5" cy="346.5" r="1.4"/><circle cx="95.8" cy="389.6" r="1.4"/><circle cx="93.9" cy="362.2" r="1.4"/><circle cx="162.9" cy="358.1" r="1.4"/><circle cx="121.4" cy="334.3" r="1.4"/><circle cx="118.3" cy="337.0" r="1.4"/><circle cx="111.8" cy="342.6" r="1.4"/><circle cx="142.6" cy="333.4" r="1.4"/><circle cx="140.0" cy="344.9" r="1.4"/><circle cx="165.0" cy="396.0" r="1.4"/><circle cx="124.7" cy="338.1" r="1.4"/><circle cx="129.4" cy="344.5" r="1.4"/><circle cx="131.9" cy="347.7" r="1.4"/><circle cx="163.9" cy="348.6" r="1.4"/><circle cx="135.5" cy="383.0" r="1.4"/><circle cx="84.9" cy="372.3" r="1.4"/><circle cx="114.0" cy="337.9" r="1.4"/><circle cx="152.5" cy="328.9" r="1.4"/><circle cx="127.6" cy="341.3" r="1.4"/><circle cx="163.7" cy="359.5" r="1.4"/><circle cx="115.2" cy="335.4" r="1.4"/><circle cx="119.7" cy="394.6" r="1.4"/><circle cx="87.3" cy="375.3" r="1.4"/><circle cx="129.1" cy="340.9" r="1.4"/><circle cx="90.2" cy="390.9" r="1.4"/><circle cx="160.7" cy="333.3" r="1.4"/><circle cx="163.5" cy="353.5" r="1.4"/><circle cx="163.4" cy="394.5" r="1.4"/><circle cx="130.2" cy="344.4" r="1.4"/><circle cx="142.8" cy="328.8" r="1.4"/><circle cx="89.4" cy="382.9" r="1.4"/><circle cx="163.0" cy="346.1" r="1.4"/><circle cx="171.4" cy="386.2" r="1.4"/><circle cx="163.1" cy="340.5" r="1.4"/><circle cx="172.5" cy="381.1" r="1.4"/><circle cx="122.4" cy="395.9" r="1.4"/><circle cx="133.8" cy="347.6" r="1.4"/><circle cx="144.4" cy="329.9" r="1.4"/><circle cx="114.0" cy="394.3" r="1.4"/><circle cx="157.5" cy="331.2" r="1.4"/><circle cx="88.6" cy="377.5" r="1.4"/><circle cx="132.7" cy="354.6" r="1.4"/><circle cx="85.3" cy="367.8" r="1.4"/><circle cx="112.1" cy="395.9" r="1.4"/><circle cx="163.7" cy="354.4" r="1.4"/><circle cx="165.6" cy="393.7" r="1.4"/><circle cx="51.0" cy="382.0" r="1.4"/><circle cx="54.0" cy="383.0" r="1.4"/><circle cx="61.0" cy="379.0" r="1.4"/><circle cx="62.0" cy="384.0" r="1.4"/><circle cx="67.0" cy="377.0" r="1.4"/><circle cx="72.0" cy="382.0" r="1.4"/><circle cx="74.0" cy="372.0" r="1.4"/><circle cx="81.0" cy="380.0" r="1.4"/><circle cx="83.0" cy="374.0" r="1.4"/><circle cx="87.0" cy="371.0" r="1.4"/><circle cx="79.0" cy="365.0" r="1.4"/><circle cx="70.0" cy="368.5" r="1.4"/><circle cx="86.0" cy="365.0" r="1.4"/><circle cx="65.0" cy="373.0" r="1.4"/><circle cx="58.0" cy="378.0" r="1.4"/><circle cx="76.0" cy="386.0" r="1.4"/><circle cx="68.0" cy="388.0" r="1.4"/><circle cx="84.0" cy="389.0" r="1.4"/><circle cx="170.0" cy="363.6" r="1.4"/><circle cx="173.5" cy="366.0" r="1.4"/><circle cx="176.8" cy="368.6" r="1.4"/><circle cx="180.0" cy="366.0" r="1.4"/><circle cx="185.0" cy="367.0" r="1.4"/><circle cx="193.5" cy="367.0" r="1.4"/><circle cx="198.6" cy="367.0" r="1.4"/><circle cx="175.0" cy="373.6" r="1.4"/><circle cx="180.0" cy="375.0" r="1.4"/><circle cx="187.0" cy="373.6" r="1.4"/><circle cx="192.0" cy="372.0" r="1.4"/><circle cx="188.5" cy="380.0" r="1.4"/><circle cx="183.5" cy="382.0" r="1.4"/><circle cx="178.5" cy="381.0" r="1.4"/><circle cx="174.3" cy="390.0" r="1.4"/><circle cx="197.0" cy="377.0" r="1.4"/><circle cx="199.4" cy="380.0" r="1.4"/><circle cx="186.0" cy="377.0" r="1.4"/><circle cx="205.0" cy="378.0" r="1.4"/><circle cx="202.0" cy="383.0" r="1.4"/><circle cx="191.0" cy="386.0" r="1.4"/><circle cx="180.0" cy="388.0" r="1.4"/><circle cx="152.5" cy="300.1" r="1.4"/><circle cx="151.1" cy="302.8" r="1.4"/><circle cx="153.8" cy="304.8" r="1.4"/><circle cx="149.8" cy="307.5" r="1.4"/><circle cx="147.8" cy="310.2" r="1.4"/><circle cx="144.4" cy="311.5" r="1.4"/><circle cx="143.7" cy="313.5" r="1.4"/><circle cx="157.9" cy="309.5" r="1.4"/><circle cx="151.8" cy="314.9" r="1.4"/><circle cx="153.8" cy="316.2" r="1.4"/><circle cx="161.9" cy="315.6" r="1.4"/><circle cx="147.1" cy="318.3" r="1.4"/><circle cx="155.9" cy="318.3" r="1.4"/><circle cx="157.9" cy="321.6" r="1.4"/><circle cx="159.2" cy="320.3" r="1.4"/><circle cx="145.8" cy="321.6" r="1.4"/><circle cx="150.5" cy="322.3" r="1.4"/><circle cx="161.2" cy="325.7" r="1.4"/><circle cx="116.8" cy="314.9" r="1.4"/><circle cx="128.3" cy="318.9" r="1.4"/><circle cx="112.1" cy="324.3" r="1.4"/><circle cx="116.2" cy="326.3" r="1.4"/><circle cx="117.5" cy="329.0" r="1.4"/><circle cx="120.9" cy="328.4" r="1.4"/><circle cx="124.9" cy="330.4" r="1.4"/><circle cx="120.9" cy="333.0" r="1.4"/><circle cx="114.1" cy="333.0" r="1.4"/><circle cx="116.2" cy="338.5" r="1.4"/><circle cx="118.8" cy="340.5" r="1.4"/><circle cx="126.9" cy="341.1" r="1.4"/><circle cx="122.2" cy="343.2" r="1.4"/><circle cx="81.5" cy="374.3" r="1.4"/><circle cx="90.5" cy="384.3" r="1.4"/><circle cx="91.3" cy="377.9" r="1.4"/><circle cx="79.0" cy="373.2" r="1.4"/><circle cx="75.5" cy="363.7" r="1.4"/><circle cx="82.2" cy="388.8" r="1.4"/><circle cx="86.1" cy="383.0" r="1.4"/><circle cx="77.5" cy="363.1" r="1.4"/><circle cx="100.1" cy="389.0" r="1.4"/><circle cx="96.4" cy="389.4" r="1.4"/><circle cx="101.6" cy="393.8" r="1.4"/><circle cx="96.7" cy="386.5" r="1.4"/><circle cx="69.9" cy="380.9" r="1.4"/><circle cx="89.6" cy="382.5" r="1.4"/><circle cx="85.1" cy="366.8" r="1.4"/><circle cx="75.1" cy="362.7" r="1.4"/><circle cx="68.3" cy="369.2" r="1.4"/><circle cx="90.0" cy="378.5" r="1.4"/><circle cx="75.6" cy="380.7" r="1.4"/><circle cx="95.0" cy="389.6" r="1.4"/><circle cx="97.1" cy="387.0" r="1.4"/><circle cx="77.6" cy="368.0" r="1.4"/><circle cx="81.1" cy="379.7" r="1.4"/><circle cx="103.5" cy="394.0" r="1.4"/><circle cx="72.3" cy="374.1" r="1.4"/><circle cx="77.3" cy="375.1" r="1.4"/><circle cx="75.1" cy="388.4" r="1.4"/><circle cx="77.6" cy="381.4" r="1.4"/><circle cx="90.4" cy="374.6" r="1.4"/><circle cx="74.3" cy="377.7" r="1.4"/><circle cx="76.5" cy="380.0" r="1.4"/><circle cx="95.7" cy="385.0" r="1.4"/><circle cx="93.3" cy="387.3" r="1.4"/><circle cx="83.1" cy="390.4" r="1.4"/><circle cx="82.1" cy="362.7" r="1.4"/><circle cx="84.8" cy="365.1" r="1.4"/><circle cx="84.0" cy="368.4" r="1.4"/><circle cx="86.4" cy="373.4" r="1.4"/><circle cx="86.7" cy="367.7" r="1.4"/><circle cx="93.0" cy="384.6" r="1.4"/><circle cx="96.0" cy="382.1" r="1.4"/><circle cx="101.4" cy="390.6" r="1.4"/><circle cx="80.1" cy="368.4" r="1.4"/><circle cx="88.3" cy="377.5" r="1.4"/><circle cx="98.0" cy="387.8" r="1.4"/><circle cx="85.5" cy="379.5" r="1.4"/><circle cx="75.3" cy="370.9" r="1.4"/><circle cx="100.0" cy="394.0" r="1.4"/><circle cx="76.4" cy="365.9" r="1.4"/><circle cx="84.5" cy="383.8" r="1.4"/><circle cx="83.4" cy="384.2" r="1.4"/><circle cx="77.1" cy="378.1" r="1.4"/><circle cx="66.4" cy="385.9" r="1.4"/><circle cx="84.8" cy="376.4" r="1.4"/><circle cx="85.1" cy="376.8" r="1.4"/><circle cx="92.2" cy="390.6" r="1.4"/><circle cx="78.8" cy="373.1" r="1.4"/><circle cx="83.7" cy="363.5" r="1.4"/><circle cx="88.2" cy="378.6" r="1.4"/><circle cx="80.4" cy="373.8" r="1.4"/><circle cx="81.8" cy="380.5" r="1.4"/><circle cx="74.8" cy="390.4" r="1.4"/><circle cx="95.3" cy="387.3" r="1.4"/><circle cx="78.1" cy="374.0" r="1.4"/><circle cx="98.7" cy="390.6" r="1.4"/><circle cx="85.4" cy="378.5" r="1.4"/><circle cx="76.6" cy="363.9" r="1.4"/><circle cx="76.2" cy="368.2" r="1.4"/><circle cx="84.5" cy="365.4" r="1.4"/><circle cx="90.4" cy="387.4" r="1.4"/><circle cx="77.1" cy="368.0" r="1.4"/><circle cx="80.0" cy="389.4" r="1.4"/><circle cx="98.7" cy="386.4" r="1.4"/><circle cx="83.5" cy="366.2" r="1.4"/><circle cx="96.6" cy="385.2" r="1.4"/><circle cx="73.5" cy="365.0" r="1.4"/><circle cx="78.2" cy="384.6" r="1.4"/><circle cx="86.4" cy="368.7" r="1.4"/><circle cx="95.8" cy="388.1" r="1.4"/><circle cx="87.1" cy="373.5" r="1.4"/><circle cx="171.3" cy="369.7" r="1.4"/><circle cx="165.7" cy="363.4" r="1.4"/><circle cx="171.3" cy="390.4" r="1.4"/><circle cx="170.0" cy="381.1" r="1.4"/><circle cx="177.9" cy="367.9" r="1.4"/><circle cx="168.1" cy="370.0" r="1.4"/><circle cx="165.7" cy="370.1" r="1.4"/><circle cx="197.0" cy="366.9" r="1.4"/><circle cx="180.5" cy="364.9" r="1.4"/><circle cx="167.0" cy="387.7" r="1.4"/><circle cx="167.2" cy="365.0" r="1.4"/><circle cx="171.9" cy="383.3" r="1.4"/><circle cx="175.9" cy="377.3" r="1.4"/><circle cx="178.1" cy="378.5" r="1.4"/><circle cx="165.2" cy="378.7" r="1.4"/><circle cx="170.6" cy="370.3" r="1.4"/><circle cx="181.6" cy="377.7" r="1.4"/><circle cx="171.8" cy="387.8" r="1.4"/><circle cx="173.3" cy="373.8" r="1.4"/><circle cx="174.4" cy="372.9" r="1.4"/><circle cx="177.4" cy="384.3" r="1.4"/><circle cx="167.4" cy="371.1" r="1.4"/><circle cx="168.7" cy="393.1" r="1.4"/><circle cx="176.3" cy="363.3" r="1.4"/><circle cx="168.8" cy="368.0" r="1.4"/><circle cx="182.9" cy="387.8" r="1.4"/><circle cx="180.8" cy="363.3" r="1.4"/><circle cx="174.3" cy="370.9" r="1.4"/><circle cx="197.1" cy="368.3" r="1.4"/><circle cx="184.5" cy="372.7" r="1.4"/><circle cx="170.9" cy="378.5" r="1.4"/><circle cx="193.1" cy="368.1" r="1.4"/><circle cx="174.8" cy="366.7" r="1.4"/><circle cx="166.1" cy="366.2" r="1.4"/><circle cx="170.4" cy="371.6" r="1.4"/><circle cx="189.7" cy="363.0" r="1.4"/><circle cx="196.8" cy="375.0" r="1.4"/><circle cx="167.3" cy="367.8" r="1.4"/><circle cx="170.3" cy="379.3" r="1.4"/><circle cx="177.1" cy="376.0" r="1.4"/>
</g>
<g fill="#1a93ad"><circle cx="79.0" cy="279.3" r="1.4"/><circle cx="109.7" cy="314.2" r="1.4"/><circle cx="108.1" cy="315.8" r="1.4"/><circle cx="106.6" cy="317.9" r="1.4"/><circle cx="90.2" cy="319.3" r="1.4"/><circle cx="101.8" cy="320.6" r="1.4"/><circle cx="106.6" cy="324.3" r="1.4"/><circle cx="90.7" cy="326.1" r="1.4"/><circle cx="103.4" cy="328.5" r="1.4"/><circle cx="103.4" cy="331.2" r="1.4"/><circle cx="81.7" cy="331.2" r="1.4"/><circle cx="100.7" cy="335.9" r="1.4"/><circle cx="107.6" cy="337.0" r="1.4"/><circle cx="101.8" cy="337.5" r="1.4"/><circle cx="84.9" cy="338.6" r="1.4"/><circle cx="88.0" cy="337.5" r="1.4"/><circle cx="81.2" cy="339.1" r="1.4"/><circle cx="90.7" cy="343.9" r="1.4"/><circle cx="96.5" cy="341.2" r="1.4"/><circle cx="106.6" cy="340.7" r="1.4"/><circle cx="79.6" cy="344.9" r="1.4"/><circle cx="74.3" cy="347.6" r="1.4"/><circle cx="85.4" cy="347.6" r="1.4"/><circle cx="88.6" cy="346.5" r="1.4"/><circle cx="91.7" cy="346.5" r="1.4"/><circle cx="94.9" cy="347.6" r="1.4"/><circle cx="87.5" cy="349.2" r="1.4"/><circle cx="92.8" cy="349.7" r="1.4"/><circle cx="96.5" cy="349.2" r="1.4"/><circle cx="100.2" cy="348.1" r="1.4"/><circle cx="69.0" cy="350.2" r="1.4"/><circle cx="75.3" cy="353.4" r="1.4"/><circle cx="79.0" cy="352.9" r="1.4"/><circle cx="89.6" cy="351.8" r="1.4"/><circle cx="98.1" cy="352.3" r="1.4"/><circle cx="104.4" cy="349.2" r="1.4"/><circle cx="105.5" cy="351.3" r="1.4"/><circle cx="108.1" cy="352.3" r="1.4"/><circle cx="69.0" cy="355.5" r="1.4"/><circle cx="78.0" cy="355.5" r="1.4"/><circle cx="84.3" cy="357.1" r="1.4"/><circle cx="88.0" cy="358.1" r="1.4"/><circle cx="91.7" cy="356.6" r="1.4"/><circle cx="97.0" cy="355.0" r="1.4"/><circle cx="101.3" cy="354.4" r="1.4"/><circle cx="103.4" cy="356.0" r="1.4"/><circle cx="106.6" cy="355.5" r="1.4"/><circle cx="108.7" cy="356.6" r="1.4"/><circle cx="100.2" cy="357.1" r="1.4"/><circle cx="82.8" cy="358.7" r="1.4"/><circle cx="86.5" cy="359.2" r="1.4"/><circle cx="89.6" cy="358.7" r="1.4"/><circle cx="56.7" cy="343.2" r="1.4"/><circle cx="59.8" cy="344.6" r="1.4"/><circle cx="53.4" cy="351.5" r="1.4"/><circle cx="60.4" cy="358.4" r="1.4"/><circle cx="69.4" cy="354.4" r="1.4"/><circle cx="69.6" cy="356.1" r="1.4"/><circle cx="74.2" cy="347.5" r="1.4"/><circle cx="75.4" cy="352.7" r="1.4"/><circle cx="74.2" cy="360.8" r="1.4"/><circle cx="95.5" cy="347.1" r="1.4"/><circle cx="110.7" cy="341.5" r="1.4"/><circle cx="98.6" cy="353.5" r="1.4"/><circle cx="106.3" cy="352.9" r="1.4"/><circle cx="95.5" cy="352.1" r="1.4"/><circle cx="109.8" cy="360.1" r="1.4"/><circle cx="101.4" cy="356.4" r="1.4"/><circle cx="109.5" cy="343.1" r="1.4"/><circle cx="105.5" cy="349.9" r="1.4"/><circle cx="101.2" cy="351.2" r="1.4"/><circle cx="110.2" cy="336.6" r="1.4"/><circle cx="106.5" cy="360.5" r="1.4"/><circle cx="102.8" cy="342.9" r="1.4"/><circle cx="108.5" cy="340.2" r="1.4"/><circle cx="107.9" cy="347.0" r="1.4"/><circle cx="108.4" cy="358.3" r="1.4"/><circle cx="103.8" cy="343.2" r="1.4"/><circle cx="93.8" cy="356.0" r="1.4"/><circle cx="99.6" cy="361.2" r="1.4"/><circle cx="110.8" cy="340.1" r="1.4"/><circle cx="109.9" cy="360.3" r="1.4"/><circle cx="99.2" cy="347.0" r="1.4"/><circle cx="90.9" cy="354.7" r="1.4"/><circle cx="98.1" cy="353.8" r="1.4"/><circle cx="109.0" cy="349.1" r="1.4"/><circle cx="103.4" cy="346.6" r="1.4"/><circle cx="110.5" cy="340.9" r="1.4"/><circle cx="101.9" cy="359.3" r="1.4"/><circle cx="100.6" cy="344.5" r="1.4"/><circle cx="94.4" cy="361.6" r="1.4"/><circle cx="94.5" cy="356.6" r="1.4"/><circle cx="106.3" cy="354.9" r="1.4"/><circle cx="98.3" cy="344.9" r="1.4"/><circle cx="98.3" cy="343.3" r="1.4"/><circle cx="109.9" cy="359.5" r="1.4"/><circle cx="110.9" cy="332.7" r="1.4"/><circle cx="92.7" cy="354.7" r="1.4"/><circle cx="94.4" cy="359.4" r="1.4"/><circle cx="93.7" cy="356.7" r="1.4"/><circle cx="108.2" cy="360.9" r="1.4"/><circle cx="104.4" cy="347.4" r="1.4"/><circle cx="104.9" cy="344.0" r="1.4"/><circle cx="110.0" cy="361.1" r="1.4"/><circle cx="100.9" cy="345.5" r="1.4"/><circle cx="105.3" cy="345.9" r="1.4"/><circle cx="93.9" cy="350.6" r="1.4"/><circle cx="104.7" cy="342.6" r="1.4"/><circle cx="107.0" cy="350.6" r="1.4"/><circle cx="110.0" cy="347.6" r="1.4"/><circle cx="100.9" cy="360.9" r="1.4"/><circle cx="106.1" cy="339.4" r="1.4"/><circle cx="109.3" cy="350.4" r="1.4"/><circle cx="109.7" cy="348.5" r="1.4"/><circle cx="104.6" cy="348.1" r="1.4"/><circle cx="104.6" cy="343.3" r="1.4"/><circle cx="107.9" cy="348.9" r="1.4"/><circle cx="104.7" cy="355.6" r="1.4"/><circle cx="105.5" cy="357.9" r="1.4"/><circle cx="93.5" cy="352.0" r="1.4"/><circle cx="103.1" cy="354.2" r="1.4"/><circle cx="94.2" cy="361.6" r="1.4"/><circle cx="104.0" cy="338.9" r="1.4"/><circle cx="105.0" cy="356.5" r="1.4"/><circle cx="89.5" cy="358.8" r="1.4"/><circle cx="103.9" cy="351.5" r="1.4"/><circle cx="95.9" cy="357.0" r="1.4"/><circle cx="102.4" cy="345.2" r="1.4"/><circle cx="99.5" cy="356.4" r="1.4"/><circle cx="102.0" cy="359.8" r="1.4"/><circle cx="103.0" cy="358.9" r="1.4"/><circle cx="94.0" cy="359.1" r="1.4"/><circle cx="105.8" cy="360.7" r="1.4"/><circle cx="104.9" cy="341.2" r="1.4"/><circle cx="99.1" cy="354.5" r="1.4"/><circle cx="100.2" cy="352.3" r="1.4"/></g>
<g fill="#c4610f"><circle cx="165.6" cy="304.2" r="1.4"/><circle cx="163.8" cy="308.9" r="1.4"/><circle cx="166.8" cy="334.3" r="1.4"/><circle cx="169.3" cy="336.0" r="1.4"/><circle cx="178.5" cy="334.8" r="1.4"/><circle cx="194.0" cy="337.3" r="1.4"/><circle cx="164.3" cy="338.5" r="1.4"/><circle cx="171.0" cy="338.5" r="1.4"/><circle cx="172.6" cy="339.8" r="1.4"/><circle cx="176.0" cy="340.2" r="1.4"/><circle cx="182.3" cy="339.7" r="1.4"/><circle cx="165.1" cy="341.0" r="1.4"/><circle cx="168.8" cy="342.2" r="1.4"/><circle cx="181.8" cy="344.3" r="1.4"/><circle cx="193.5" cy="345.2" r="1.4"/><circle cx="164.3" cy="347.7" r="1.4"/><circle cx="168.5" cy="348.2" r="1.4"/><circle cx="181.8" cy="348.2" r="1.4"/><circle cx="172.6" cy="350.5" r="1.4"/><circle cx="165.1" cy="351.0" r="1.4"/><circle cx="166.8" cy="353.5" r="1.4"/><circle cx="171.0" cy="356.0" r="1.4"/><circle cx="164.3" cy="356.0" r="1.4"/><circle cx="180.2" cy="358.6" r="1.4"/><circle cx="171.8" cy="360.6" r="1.4"/><circle cx="165.1" cy="359.4" r="1.4"/><circle cx="166.0" cy="356.9" r="1.4"/><circle cx="238.7" cy="352.0" r="1.4"/><circle cx="167.4" cy="350.1" r="1.4"/><circle cx="171.9" cy="358.9" r="1.4"/><circle cx="167.8" cy="347.7" r="1.4"/><circle cx="169.3" cy="357.0" r="1.4"/><circle cx="166.5" cy="340.5" r="1.4"/><circle cx="168.1" cy="351.4" r="1.4"/><circle cx="165.0" cy="361.2" r="1.4"/><circle cx="169.5" cy="353.8" r="1.4"/><circle cx="168.0" cy="349.0" r="1.4"/><circle cx="164.2" cy="361.2" r="1.4"/><circle cx="163.4" cy="339.3" r="1.4"/><circle cx="167.4" cy="351.4" r="1.4"/><circle cx="165.3" cy="346.5" r="1.4"/><circle cx="166.5" cy="348.8" r="1.4"/><circle cx="164.1" cy="351.6" r="1.4"/><circle cx="169.3" cy="354.6" r="1.4"/><circle cx="168.9" cy="346.8" r="1.4"/><circle cx="167.8" cy="338.9" r="1.4"/><circle cx="163.7" cy="340.1" r="1.4"/><circle cx="166.8" cy="349.2" r="1.4"/><circle cx="167.8" cy="360.2" r="1.4"/><circle cx="165.9" cy="337.1" r="1.4"/><circle cx="168.8" cy="340.5" r="1.4"/><circle cx="171.8" cy="358.4" r="1.4"/><circle cx="164.5" cy="341.2" r="1.4"/><circle cx="164.7" cy="344.9" r="1.4"/><circle cx="167.7" cy="353.7" r="1.4"/><circle cx="168.5" cy="351.2" r="1.4"/><circle cx="164.7" cy="350.2" r="1.4"/><circle cx="164.8" cy="336.9" r="1.4"/><circle cx="172.5" cy="361.8" r="1.4"/><circle cx="167.3" cy="356.2" r="1.4"/></g>
<line x1="110.6" y1="257.3" x2="110.6" y2="397" stroke="#b5b5b5" stroke-width="0.8" stroke-dasharray="3,2.4"/>
<line x1="163.1" y1="257.3" x2="163.1" y2="397" stroke="#b5b5b5" stroke-width="0.8" stroke-dasharray="3,2.4"/>
<line x1="31.5" y1="361.1" x2="244" y2="361.1" stroke="#b5b5b5" stroke-width="0.8" stroke-dasharray="3,2.4"/>
<line x1="31.3" y1="398.0" x2="31.3" y2="256.9" stroke="#231f20" stroke-width="1"/>
<line x1="28.3" y1="397.5" x2="31.3" y2="397.5" stroke="#231f20" stroke-width="0.9"/>
<text x="25.700000000000003" y="400.5" font-size="8.2" text-anchor="end" fill="#231f20">0</text>
<line x1="28.3" y1="369.5" x2="31.3" y2="369.5" stroke="#231f20" stroke-width="0.9"/>
<text x="25.700000000000003" y="372.5" font-size="8.2" text-anchor="end" fill="#231f20">1</text>
<line x1="28.3" y1="341.5" x2="31.3" y2="341.5" stroke="#231f20" stroke-width="0.9"/>
<text x="25.700000000000003" y="344.5" font-size="8.2" text-anchor="end" fill="#231f20">2</text>
<line x1="28.3" y1="313.5" x2="31.3" y2="313.5" stroke="#231f20" stroke-width="0.9"/>
<text x="25.700000000000003" y="316.5" font-size="8.2" text-anchor="end" fill="#231f20">3</text>
<line x1="28.3" y1="285.5" x2="31.3" y2="285.5" stroke="#231f20" stroke-width="0.9"/>
<text x="25.700000000000003" y="288.5" font-size="8.2" text-anchor="end" fill="#231f20">4</text>
<line x1="28.3" y1="257.5" x2="31.3" y2="257.5" stroke="#231f20" stroke-width="0.9"/>
<text x="25.700000000000003" y="260.5" font-size="8.2" text-anchor="end" fill="#231f20">5</text>
<line x1="30.8" y1="397.5" x2="245" y2="397.5" stroke="#231f20" stroke-width="1"/>
<line x1="31.80000000000001" y1="397.5" x2="31.80000000000001" y2="400.5" stroke="#231f20" stroke-width="0.9"/>
<text x="31.80000000000001" y="410.3" font-size="8.2" text-anchor="middle" fill="#231f20">−2</text>
<line x1="84.30000000000001" y1="397.5" x2="84.30000000000001" y2="400.5" stroke="#231f20" stroke-width="0.9"/>
<text x="84.30000000000001" y="410.3" font-size="8.2" text-anchor="middle" fill="#231f20">−1</text>
<line x1="136.8" y1="397.5" x2="136.8" y2="400.5" stroke="#231f20" stroke-width="0.9"/>
<text x="136.8" y="410.3" font-size="8.2" text-anchor="middle" fill="#231f20">0</text>
<line x1="189.3" y1="397.5" x2="189.3" y2="400.5" stroke="#231f20" stroke-width="0.9"/>
<text x="189.3" y="410.3" font-size="8.2" text-anchor="middle" fill="#231f20">1</text>
<line x1="241.8" y1="397.5" x2="241.8" y2="400.5" stroke="#231f20" stroke-width="0.9"/>
<text x="241.8" y="410.3" font-size="8.2" text-anchor="middle" fill="#231f20">2</text>
<text x="137.2" y="248" font-size="10.6" text-anchor="middle" fill="#231f20" textLength="48.2" lengthAdjust="spacingAndGlyphs">CD8 T cells</text>
<text x="69.8" y="264.1" font-size="9.4" text-anchor="middle" fill="#231f20" textLength="54" lengthAdjust="spacingAndGlyphs">Higher in cured</text>
<text x="206.6" y="264.1" font-size="9.4" text-anchor="middle" fill="#231f20" textLength="65.4" lengthAdjust="spacingAndGlyphs">Higher in relapsed</text>
<text x="138.5" y="422.6" font-size="8.4" text-anchor="middle" fill="#231f20" textLength="55.4" lengthAdjust="spacingAndGlyphs">log2FoldChange</text>
<text transform="translate(13.6,325.6) rotate(-90)" x="0" y="0" font-size="8.8" text-anchor="middle" fill="#231f20" textLength="53" lengthAdjust="spacingAndGlyphs">-log10(p value)</text>
<text x="66.4" y="275.9" font-size="8.4" font-style="italic" fill="#231f20" textLength="16.0" lengthAdjust="spacingAndGlyphs">Tprn</text>
<text x="44.5" y="340.1" font-size="8.4" font-style="italic" fill="#231f20" textLength="15.9" lengthAdjust="spacingAndGlyphs">Ccl3</text>
<text x="37.9" y="351.2" font-size="8.4" font-style="italic" fill="#231f20" textLength="25.3" lengthAdjust="spacingAndGlyphs">Tspan5</text>
<text x="61.0" y="362.4" font-size="8.4" font-style="italic" fill="#231f20" textLength="18.0" lengthAdjust="spacingAndGlyphs">Cdk6</text>
<text x="74.2" y="344.4" font-size="8.4" font-style="italic" fill="#231f20" textLength="15.9" lengthAdjust="spacingAndGlyphs">Ccl2</text>
<text x="97.0" y="346.5" font-size="8.4" font-style="italic" fill="#231f20" textLength="15.3" lengthAdjust="spacingAndGlyphs">Ccl5</text>
<text x="93.30000000000001" y="361.9" font-size="8.4" font-style="italic" fill="#231f20" textLength="19.0" lengthAdjust="spacingAndGlyphs">Gzmk</text>
<g fill="#d1d1d1">
<polygon points="391,344 395,340 399,343 401.9,348.3 403.3,364.7 404.2,377 404.7,377 405.3,364.7 406,348.3 408,341 411.5,338 415,339 417.4,342 417.4,361.5 428,362 433,366 434,373 430,381 423,388 414,393 400,395 386,393.5 376,389 369,381 365,372 364,361.5 391,361.5"/>
<circle cx="411.7" cy="335.4" r="1.4"/><circle cx="433.8" cy="366.5" r="1.4"/><circle cx="371.2" cy="382.3" r="1.4"/><circle cx="386.9" cy="361.1" r="1.4"/><circle cx="411.5" cy="338.1" r="1.4"/><circle cx="391.2" cy="394.1" r="1.4"/><circle cx="364.4" cy="363.4" r="1.4"/><circle cx="422.0" cy="387.7" r="1.4"/><circle cx="431.8" cy="369.3" r="1.4"/><circle cx="374.5" cy="389.7" r="1.4"/><circle cx="417.0" cy="352.6" r="1.4"/><circle cx="416.8" cy="355.9" r="1.4"/><circle cx="412.0" cy="393.7" r="1.4"/><circle cx="390.3" cy="362.3" r="1.4"/><circle cx="420.7" cy="390.1" r="1.4"/><circle cx="379.4" cy="389.5" r="1.4"/><circle cx="379.0" cy="391.4" r="1.4"/><circle cx="430.1" cy="380.2" r="1.4"/><circle cx="432.9" cy="364.6" r="1.4"/><circle cx="391.5" cy="350.3" r="1.4"/><circle cx="367.8" cy="381.5" r="1.4"/><circle cx="421.3" cy="388.1" r="1.4"/><circle cx="389.1" cy="395.2" r="1.4"/><circle cx="431.4" cy="371.4" r="1.4"/><circle cx="409.3" cy="344.3" r="1.4"/><circle cx="428.1" cy="380.2" r="1.4"/><circle cx="375.4" cy="363.4" r="1.4"/><circle cx="417.1" cy="355.8" r="1.4"/><circle cx="416.6" cy="350.3" r="1.4"/><circle cx="415.7" cy="345.0" r="1.4"/><circle cx="421.7" cy="387.8" r="1.4"/><circle cx="370.6" cy="381.4" r="1.4"/><circle cx="432.9" cy="376.2" r="1.4"/><circle cx="400.8" cy="395.0" r="1.4"/><circle cx="416.8" cy="348.0" r="1.4"/><circle cx="425.6" cy="385.8" r="1.4"/><circle cx="373.4" cy="388.6" r="1.4"/><circle cx="372.6" cy="385.5" r="1.4"/><circle cx="363.0" cy="361.1" r="1.4"/><circle cx="386.1" cy="393.1" r="1.4"/><circle cx="394.1" cy="342.0" r="1.4"/><circle cx="414.4" cy="393.2" r="1.4"/><circle cx="406.3" cy="352.3" r="1.4"/><circle cx="400.0" cy="396.1" r="1.4"/><circle cx="405.2" cy="374.2" r="1.4"/><circle cx="378.3" cy="390.2" r="1.4"/><circle cx="394.9" cy="395.1" r="1.4"/><circle cx="387.2" cy="394.4" r="1.4"/><circle cx="400.6" cy="394.2" r="1.4"/><circle cx="395.4" cy="394.6" r="1.4"/><circle cx="363.8" cy="364.0" r="1.4"/><circle cx="390.8" cy="393.7" r="1.4"/><circle cx="425.0" cy="362.3" r="1.4"/><circle cx="417.6" cy="347.0" r="1.4"/><circle cx="433.2" cy="370.9" r="1.4"/><circle cx="369.5" cy="380.9" r="1.4"/><circle cx="405.6" cy="361.5" r="1.4"/><circle cx="365.6" cy="376.1" r="1.4"/><circle cx="402.8" cy="366.9" r="1.4"/><circle cx="402.1" cy="357.7" r="1.4"/><circle cx="364.4" cy="362.6" r="1.4"/><circle cx="400.5" cy="345.4" r="1.4"/><circle cx="365.1" cy="371.3" r="1.4"/><circle cx="433.2" cy="374.3" r="1.4"/><circle cx="423.5" cy="387.1" r="1.4"/><circle cx="402.4" cy="358.4" r="1.4"/><circle cx="364.1" cy="376.9" r="1.4"/><circle cx="372.1" cy="362.6" r="1.4"/><circle cx="413.7" cy="392.7" r="1.4"/><circle cx="383.2" cy="391.4" r="1.4"/><circle cx="430.8" cy="376.5" r="1.4"/><circle cx="394.6" cy="339.8" r="1.4"/><circle cx="374.4" cy="385.8" r="1.4"/><circle cx="385.1" cy="361.8" r="1.4"/><circle cx="397.3" cy="341.9" r="1.4"/><circle cx="425.1" cy="385.1" r="1.4"/><circle cx="392.7" cy="341.4" r="1.4"/><circle cx="418.0" cy="361.5" r="1.4"/><circle cx="401.5" cy="353.9" r="1.4"/><circle cx="434.2" cy="370.8" r="1.4"/><circle cx="380.7" cy="389.2" r="1.4"/><circle cx="364.9" cy="362.0" r="1.4"/><circle cx="365.3" cy="362.0" r="1.4"/><circle cx="397.7" cy="342.4" r="1.4"/><circle cx="388.3" cy="362.4" r="1.4"/><circle cx="402.5" cy="361.9" r="1.4"/><circle cx="408.4" cy="347.6" r="1.4"/><circle cx="407.9" cy="342.3" r="1.4"/><circle cx="387.8" cy="362.6" r="1.4"/><circle cx="376.9" cy="389.3" r="1.4"/><circle cx="387.5" cy="393.0" r="1.4"/><circle cx="395.0" cy="339.3" r="1.4"/><circle cx="399.4" cy="393.1" r="1.4"/><circle cx="405.1" cy="393.8" r="1.4"/><circle cx="390.6" cy="362.6" r="1.4"/><circle cx="433.0" cy="376.2" r="1.4"/><circle cx="392.2" cy="358.1" r="1.4"/><circle cx="425.8" cy="386.0" r="1.4"/><circle cx="398.9" cy="395.7" r="1.4"/><circle cx="416.0" cy="346.6" r="1.4"/><circle cx="429.3" cy="383.7" r="1.4"/><circle cx="411.8" cy="394.6" r="1.4"/><circle cx="401.1" cy="345.9" r="1.4"/><circle cx="407.7" cy="374.5" r="1.4"/><circle cx="397.9" cy="394.4" r="1.4"/><circle cx="434.4" cy="366.3" r="1.4"/><circle cx="386.1" cy="393.6" r="1.4"/><circle cx="382.8" cy="392.7" r="1.4"/><circle cx="431.9" cy="365.4" r="1.4"/><circle cx="402.8" cy="358.8" r="1.4"/><circle cx="391.5" cy="362.4" r="1.4"/><circle cx="400.3" cy="396.3" r="1.4"/><circle cx="424.0" cy="386.1" r="1.4"/><circle cx="434.2" cy="368.3" r="1.4"/><circle cx="399.9" cy="346.9" r="1.4"/><circle cx="425.2" cy="361.9" r="1.4"/><circle cx="363.2" cy="361.7" r="1.4"/><circle cx="430.5" cy="363.9" r="1.4"/><circle cx="364.4" cy="364.6" r="1.4"/><circle cx="414.8" cy="339.1" r="1.4"/><circle cx="430.1" cy="379.7" r="1.4"/><circle cx="366.9" cy="361.5" r="1.4"/><circle cx="400.7" cy="345.5" r="1.4"/><circle cx="422.8" cy="387.5" r="1.4"/><circle cx="416.3" cy="343.4" r="1.4"/><circle cx="367.3" cy="377.2" r="1.4"/><circle cx="432.9" cy="365.2" r="1.4"/><circle cx="415.0" cy="343.8" r="1.4"/><circle cx="395.8" cy="339.9" r="1.4"/><circle cx="428.7" cy="382.1" r="1.4"/><circle cx="411.8" cy="394.7" r="1.4"/><circle cx="380.0" cy="391.3" r="1.4"/><circle cx="369.5" cy="380.8" r="1.4"/><circle cx="374.2" cy="385.8" r="1.4"/><circle cx="387.3" cy="392.9" r="1.4"/><circle cx="380.2" cy="363.8" r="1.4"/><circle cx="418.7" cy="391.2" r="1.4"/><circle cx="366.8" cy="378.7" r="1.4"/><circle cx="415.8" cy="391.2" r="1.4"/><circle cx="380.3" cy="362.7" r="1.4"/><circle cx="399.1" cy="344.8" r="1.4"/><circle cx="389.5" cy="394.2" r="1.4"/><circle cx="396.3" cy="341.8" r="1.4"/><circle cx="402.9" cy="369.2" r="1.4"/><circle cx="393.1" cy="392.8" r="1.4"/><circle cx="392.0" cy="353.7" r="1.4"/><circle cx="391.1" cy="346.6" r="1.4"/><circle cx="414.3" cy="340.3" r="1.4"/><circle cx="413.2" cy="393.5" r="1.4"/><circle cx="417.7" cy="360.5" r="1.4"/><circle cx="381.0" cy="390.8" r="1.4"/><circle cx="395.4" cy="340.0" r="1.4"/><circle cx="364.2" cy="369.7" r="1.4"/><circle cx="392.2" cy="342.1" r="1.4"/><circle cx="416.0" cy="362.1" r="1.4"/><circle cx="433.0" cy="377.1" r="1.4"/><circle cx="419.7" cy="390.9" r="1.4"/><circle cx="421.8" cy="388.9" r="1.4"/><circle cx="375.3" cy="362.4" r="1.4"/><circle cx="401.6" cy="357.9" r="1.4"/><circle cx="417.5" cy="360.1" r="1.4"/><circle cx="415.0" cy="339.1" r="1.4"/><circle cx="416.7" cy="358.7" r="1.4"/><circle cx="420.7" cy="389.3" r="1.4"/><circle cx="416.6" cy="342.3" r="1.4"/><circle cx="433.2" cy="366.1" r="1.4"/><circle cx="400.2" cy="396.2" r="1.4"/><circle cx="409.5" cy="340.7" r="1.4"/><circle cx="377.7" cy="387.8" r="1.4"/><circle cx="421.8" cy="362.4" r="1.4"/><circle cx="429.2" cy="362.6" r="1.4"/><circle cx="371.0" cy="386.1" r="1.4"/><circle cx="362.1" cy="370.8" r="1.4"/><circle cx="401.6" cy="346.6" r="1.4"/><circle cx="417.0" cy="392.2" r="1.4"/><circle cx="432.9" cy="366.9" r="1.4"/><circle cx="393.0" cy="394.0" r="1.4"/><circle cx="391.6" cy="352.0" r="1.4"/><circle cx="382.2" cy="362.3" r="1.4"/><circle cx="405.2" cy="395.2" r="1.4"/><circle cx="430.0" cy="361.4" r="1.4"/><circle cx="434.5" cy="370.7" r="1.4"/><circle cx="363.8" cy="369.0" r="1.4"/><circle cx="402.6" cy="395.2" r="1.4"/><circle cx="388.9" cy="394.4" r="1.4"/><circle cx="367.8" cy="362.7" r="1.4"/><circle cx="416.5" cy="344.7" r="1.4"/><circle cx="390.2" cy="395.0" r="1.4"/><circle cx="407.2" cy="346.6" r="1.4"/><circle cx="425.5" cy="386.3" r="1.4"/><circle cx="363.2" cy="365.9" r="1.4"/><circle cx="398.0" cy="396.4" r="1.4"/><circle cx="427.5" cy="385.0" r="1.4"/><circle cx="367.9" cy="378.6" r="1.4"/><circle cx="383.4" cy="394.8" r="1.4"/><circle cx="434.6" cy="376.4" r="1.4"/><circle cx="363.4" cy="364.0" r="1.4"/><circle cx="366.1" cy="372.4" r="1.4"/><circle cx="410.9" cy="392.9" r="1.4"/><circle cx="432.9" cy="367.2" r="1.4"/><circle cx="399.8" cy="346.4" r="1.4"/><circle cx="419.1" cy="391.7" r="1.4"/><circle cx="401.5" cy="394.8" r="1.4"/><circle cx="409.5" cy="340.8" r="1.4"/><circle cx="407.2" cy="363.3" r="1.4"/><circle cx="367.3" cy="374.4" r="1.4"/><circle cx="416.3" cy="346.8" r="1.4"/><circle cx="398.1" cy="394.7" r="1.4"/><circle cx="370.4" cy="382.6" r="1.4"/><circle cx="387.9" cy="393.6" r="1.4"/><circle cx="394.2" cy="340.0" r="1.4"/><circle cx="410.1" cy="393.1" r="1.4"/><circle cx="373.2" cy="363.0" r="1.4"/><circle cx="416.9" cy="352.8" r="1.4"/><circle cx="419.7" cy="361.2" r="1.4"/><circle cx="433.0" cy="366.1" r="1.4"/><circle cx="378.1" cy="363.3" r="1.4"/><circle cx="377.9" cy="388.4" r="1.4"/><circle cx="402.2" cy="353.3" r="1.4"/><circle cx="363.6" cy="365.6" r="1.4"/><circle cx="401.5" cy="347.5" r="1.4"/><circle cx="401.9" cy="394.5" r="1.4"/><circle cx="385.3" cy="361.9" r="1.4"/><circle cx="391.2" cy="355.6" r="1.4"/><circle cx="432.6" cy="373.9" r="1.4"/><circle cx="367.1" cy="379.4" r="1.4"/><circle cx="418.1" cy="361.7" r="1.4"/><circle cx="366.6" cy="366.0" r="1.4"/><circle cx="405.2" cy="376.5" r="1.4"/><circle cx="372.0" cy="386.5" r="1.4"/><circle cx="418.3" cy="361.2" r="1.4"/><circle cx="372.2" cy="385.5" r="1.4"/><circle cx="427.7" cy="383.6" r="1.4"/><circle cx="402.5" cy="362.9" r="1.4"/><circle cx="363.9" cy="370.5" r="1.4"/><circle cx="373.7" cy="362.5" r="1.4"/><circle cx="397.8" cy="396.1" r="1.4"/><circle cx="376.0" cy="388.9" r="1.4"/><circle cx="417.4" cy="340.1" r="1.4"/><circle cx="427.8" cy="381.9" r="1.4"/><circle cx="400.2" cy="342.8" r="1.4"/><circle cx="391.6" cy="352.5" r="1.4"/><circle cx="415.8" cy="345.2" r="1.4"/><circle cx="431.8" cy="362.5" r="1.4"/><circle cx="371.2" cy="385.3" r="1.4"/><circle cx="432.5" cy="373.6" r="1.4"/><circle cx="391.6" cy="361.4" r="1.4"/><circle cx="423.5" cy="389.1" r="1.4"/><circle cx="388.7" cy="363.2" r="1.4"/><circle cx="413.3" cy="392.9" r="1.4"/><circle cx="363.3" cy="361.9" r="1.4"/><circle cx="409.7" cy="337.6" r="1.4"/><circle cx="405.6" cy="373.1" r="1.4"/><circle cx="401.0" cy="395.6" r="1.4"/><circle cx="376.4" cy="390.6" r="1.4"/><circle cx="402.8" cy="371.7" r="1.4"/><circle cx="393.2" cy="395.8" r="1.4"/><circle cx="406.9" cy="394.9" r="1.4"/><circle cx="370.5" cy="382.4" r="1.4"/><circle cx="391.9" cy="353.2" r="1.4"/><circle cx="388.8" cy="361.5" r="1.4"/><circle cx="393.9" cy="339.6" r="1.4"/><circle cx="381.6" cy="392.7" r="1.4"/><circle cx="407.4" cy="363.2" r="1.4"/><circle cx="416.7" cy="353.2" r="1.4"/><circle cx="416.9" cy="351.8" r="1.4"/><circle cx="365.3" cy="367.9" r="1.4"/><circle cx="424.1" cy="387.0" r="1.4"/><circle cx="365.6" cy="372.1" r="1.4"/><circle cx="430.7" cy="364.6" r="1.4"/><circle cx="384.3" cy="394.1" r="1.4"/><circle cx="417.3" cy="351.9" r="1.4"/><circle cx="369.8" cy="382.8" r="1.4"/><circle cx="373.2" cy="362.1" r="1.4"/><circle cx="402.5" cy="375.2" r="1.4"/><circle cx="398.9" cy="341.1" r="1.4"/><circle cx="363.3" cy="365.1" r="1.4"/><circle cx="402.6" cy="360.0" r="1.4"/><circle cx="409.0" cy="341.8" r="1.4"/><circle cx="386.8" cy="362.3" r="1.4"/><circle cx="363.9" cy="364.6" r="1.4"/><circle cx="393.9" cy="339.8" r="1.4"/><circle cx="405.3" cy="372.3" r="1.4"/><circle cx="422.8" cy="362.7" r="1.4"/><circle cx="409.9" cy="341.4" r="1.4"/><circle cx="422.2" cy="389.1" r="1.4"/><circle cx="378.9" cy="389.5" r="1.4"/><circle cx="416.1" cy="393.1" r="1.4"/><circle cx="416.6" cy="392.6" r="1.4"/><circle cx="426.4" cy="385.3" r="1.4"/><circle cx="421.0" cy="362.6" r="1.4"/><circle cx="412.5" cy="391.5" r="1.4"/><circle cx="409.8" cy="393.1" r="1.4"/><circle cx="363.4" cy="365.2" r="1.4"/><circle cx="402.6" cy="376.9" r="1.4"/><circle cx="367.1" cy="373.9" r="1.4"/><circle cx="422.0" cy="361.4" r="1.4"/><circle cx="407.2" cy="357.5" r="1.4"/><circle cx="405.9" cy="368.1" r="1.4"/><circle cx="402.0" cy="369.6" r="1.4"/><circle cx="405.8" cy="359.9" r="1.4"/><circle cx="402.7" cy="372.5" r="1.4"/><circle cx="412.0" cy="393.1" r="1.4"/><circle cx="399.2" cy="344.8" r="1.4"/><circle cx="415.8" cy="360.5" r="1.4"/><circle cx="408.1" cy="342.7" r="1.4"/><circle cx="410.4" cy="340.9" r="1.4"/><circle cx="385.6" cy="393.9" r="1.4"/><circle cx="412.6" cy="394.2" r="1.4"/><circle cx="396.8" cy="394.6" r="1.4"/><circle cx="364.9" cy="367.7" r="1.4"/><circle cx="412.1" cy="337.9" r="1.4"/><circle cx="383.1" cy="362.0" r="1.4"/><circle cx="407.0" cy="343.6" r="1.4"/><circle cx="419.7" cy="389.8" r="1.4"/><circle cx="429.8" cy="363.8" r="1.4"/><circle cx="373.1" cy="363.6" r="1.4"/><circle cx="364.4" cy="372.1" r="1.4"/><circle cx="392.7" cy="345.0" r="1.4"/><circle cx="391.8" cy="355.5" r="1.4"/><circle cx="389.8" cy="361.9" r="1.4"/><circle cx="408.1" cy="343.0" r="1.4"/><circle cx="406.4" cy="350.0" r="1.4"/><circle cx="413.6" cy="340.5" r="1.4"/><circle cx="417.5" cy="351.5" r="1.4"/><circle cx="425.2" cy="387.3" r="1.4"/><circle cx="394.9" cy="341.2" r="1.4"/><circle cx="426.7" cy="386.6" r="1.4"/><circle cx="391.9" cy="349.6" r="1.4"/><circle cx="420.3" cy="361.0" r="1.4"/><circle cx="391.0" cy="346.7" r="1.4"/><circle cx="428.8" cy="379.2" r="1.4"/><circle cx="414.1" cy="338.8" r="1.4"/><circle cx="397.8" cy="393.3" r="1.4"/><circle cx="389.8" cy="395.1" r="1.4"/><circle cx="417.5" cy="347.2" r="1.4"/><circle cx="424.0" cy="388.1" r="1.4"/><circle cx="408.5" cy="340.7" r="1.4"/><circle cx="415.6" cy="359.9" r="1.4"/><circle cx="428.8" cy="381.2" r="1.4"/><circle cx="408.4" cy="343.3" r="1.4"/><circle cx="420.2" cy="391.4" r="1.4"/><circle cx="429.4" cy="363.0" r="1.4"/><circle cx="366.0" cy="374.2" r="1.4"/><circle cx="424.4" cy="388.1" r="1.4"/><circle cx="417.4" cy="352.3" r="1.4"/><circle cx="391.6" cy="348.5" r="1.4"/><circle cx="390.0" cy="361.8" r="1.4"/><circle cx="406.2" cy="362.3" r="1.4"/><circle cx="406.7" cy="393.8" r="1.4"/><circle cx="407.2" cy="346.7" r="1.4"/><circle cx="432.4" cy="376.2" r="1.4"/><circle cx="374.8" cy="387.2" r="1.4"/><circle cx="416.6" cy="342.1" r="1.4"/><circle cx="387.2" cy="361.3" r="1.4"/><circle cx="392.5" cy="394.4" r="1.4"/><circle cx="391.3" cy="392.3" r="1.4"/><circle cx="408.1" cy="338.7" r="1.4"/><circle cx="363.9" cy="369.0" r="1.4"/><circle cx="425.3" cy="363.0" r="1.4"/><circle cx="419.9" cy="391.2" r="1.4"/><circle cx="381.9" cy="392.2" r="1.4"/><circle cx="397.6" cy="343.4" r="1.4"/><circle cx="401.0" cy="345.0" r="1.4"/><circle cx="406.9" cy="350.9" r="1.4"/><circle cx="369.6" cy="382.4" r="1.4"/><circle cx="396.4" cy="342.6" r="1.4"/><circle cx="383.5" cy="392.5" r="1.4"/><circle cx="417.2" cy="358.9" r="1.4"/><circle cx="385.7" cy="361.3" r="1.4"/><circle cx="395.5" cy="340.9" r="1.4"/><circle cx="380.7" cy="389.0" r="1.4"/><circle cx="394.6" cy="394.6" r="1.4"/><circle cx="416.1" cy="391.8" r="1.4"/><circle cx="407.5" cy="340.1" r="1.4"/><circle cx="403.3" cy="371.6" r="1.4"/><circle cx="416.5" cy="355.5" r="1.4"/><circle cx="392.0" cy="345.0" r="1.4"/><circle cx="396.0" cy="393.9" r="1.4"/><circle cx="417.2" cy="348.4" r="1.4"/><circle cx="406.1" cy="351.3" r="1.4"/><circle cx="384.5" cy="361.5" r="1.4"/><circle cx="400.7" cy="340.8" r="1.4"/><circle cx="426.4" cy="387.6" r="1.4"/><circle cx="430.5" cy="364.0" r="1.4"/><circle cx="368.8" cy="382.6" r="1.4"/><circle cx="366.9" cy="379.4" r="1.4"/><circle cx="415.8" cy="335.7" r="1.4"/><circle cx="386.1" cy="394.6" r="1.4"/><circle cx="412.6" cy="333.9" r="1.4"/><circle cx="390.3" cy="395.5" r="1.4"/><circle cx="388.1" cy="394.0" r="1.4"/><circle cx="394.9" cy="395.1" r="1.4"/><circle cx="427.0" cy="384.1" r="1.4"/><circle cx="412.4" cy="393.3" r="1.4"/><circle cx="377.6" cy="390.1" r="1.4"/><circle cx="363.9" cy="376.8" r="1.4"/><circle cx="407.6" cy="341.7" r="1.4"/><circle cx="433.7" cy="368.6" r="1.4"/><circle cx="381.2" cy="361.1" r="1.4"/><circle cx="425.7" cy="361.3" r="1.4"/><circle cx="426.3" cy="386.1" r="1.4"/><circle cx="396.4" cy="340.8" r="1.4"/><circle cx="363.9" cy="364.7" r="1.4"/><circle cx="410.5" cy="396.2" r="1.4"/><circle cx="391.0" cy="361.5" r="1.4"/><circle cx="433.7" cy="369.5" r="1.4"/><circle cx="436.4" cy="375.8" r="1.4"/><circle cx="373.2" cy="361.1" r="1.4"/><circle cx="377.8" cy="391.3" r="1.4"/><circle cx="363.9" cy="370.1" r="1.4"/><circle cx="370.0" cy="386.5" r="1.4"/><circle cx="397.9" cy="395.8" r="1.4"/><circle cx="383.9" cy="393.6" r="1.4"/><circle cx="435.1" cy="365.3" r="1.4"/><circle cx="408.6" cy="339.0" r="1.4"/><circle cx="364.2" cy="369.4" r="1.4"/><circle cx="414.8" cy="334.6" r="1.4"/><circle cx="375.2" cy="390.6" r="1.4"/><circle cx="406.6" cy="395.3" r="1.4"/><circle cx="394.0" cy="340.0" r="1.4"/><circle cx="363.2" cy="373.0" r="1.4"/><circle cx="377.6" cy="392.8" r="1.4"/><circle cx="434.5" cy="371.7" r="1.4"/><circle cx="418.3" cy="391.2" r="1.4"/><circle cx="363.1" cy="361.4" r="1.4"/><circle cx="378.4" cy="390.7" r="1.4"/><circle cx="406.9" cy="395.8" r="1.4"/><circle cx="361.2" cy="361.3" r="1.4"/><circle cx="399.2" cy="343.2" r="1.4"/><circle cx="429.5" cy="382.8" r="1.4"/><circle cx="364.1" cy="377.4" r="1.4"/><circle cx="417.9" cy="394.6" r="1.4"/><circle cx="373.7" cy="388.3" r="1.4"/><circle cx="363.0" cy="365.9" r="1.4"/><circle cx="387.7" cy="395.1" r="1.4"/><circle cx="366.9" cy="376.8" r="1.4"/><circle cx="362.2" cy="365.5" r="1.4"/><circle cx="369.6" cy="387.7" r="1.4"/><circle cx="421.8" cy="389.4" r="1.4"/><circle cx="433.1" cy="375.4" r="1.4"/><circle cx="431.0" cy="386.9" r="1.4"/><circle cx="419.5" cy="392.0" r="1.4"/><circle cx="433.4" cy="381.4" r="1.4"/><circle cx="381.4" cy="391.4" r="1.4"/><circle cx="361.0" cy="373.0" r="1.4"/><circle cx="395.6" cy="337.9" r="1.4"/><circle cx="365.4" cy="380.4" r="1.4"/><circle cx="367.9" cy="380.1" r="1.4"/><circle cx="422.9" cy="361.3" r="1.4"/><circle cx="393.6" cy="395.5" r="1.4"/><circle cx="395.3" cy="337.9" r="1.4"/><circle cx="399.4" cy="338.4" r="1.4"/><circle cx="372.1" cy="392.0" r="1.4"/><circle cx="394.7" cy="396.1" r="1.4"/><circle cx="390.9" cy="357.2" r="1.4"/><circle cx="362.6" cy="369.3" r="1.4"/><circle cx="415.1" cy="393.2" r="1.4"/><circle cx="415.1" cy="393.1" r="1.4"/><circle cx="436.9" cy="373.3" r="1.4"/><circle cx="417.7" cy="352.0" r="1.4"/><circle cx="367.4" cy="381.7" r="1.4"/><circle cx="423.2" cy="392.4" r="1.4"/><circle cx="393.5" cy="341.4" r="1.4"/><circle cx="437.8" cy="376.3" r="1.4"/><circle cx="436.9" cy="368.8" r="1.4"/><circle cx="428.9" cy="384.5" r="1.4"/><circle cx="367.7" cy="361.3" r="1.4"/><circle cx="384.4" cy="395.9" r="1.4"/><circle cx="376.6" cy="391.6" r="1.4"/><circle cx="423.4" cy="361.7" r="1.4"/><circle cx="343.0" cy="373.0" r="1.4"/><circle cx="347.0" cy="370.0" r="1.4"/><circle cx="351.0" cy="376.0" r="1.4"/><circle cx="355.0" cy="367.0" r="1.4"/><circle cx="358.0" cy="379.0" r="1.4"/><circle cx="352.0" cy="385.0" r="1.4"/><circle cx="346.0" cy="381.0" r="1.4"/><circle cx="363.0" cy="389.0" r="1.4"/><circle cx="356.0" cy="390.0" r="1.4"/><circle cx="340.0" cy="378.0" r="1.4"/><circle cx="349.0" cy="366.0" r="1.4"/><circle cx="366.0" cy="392.0" r="1.4"/><circle cx="394.4" cy="303.5" r="1.4"/><circle cx="396.7" cy="314.4" r="1.4"/><circle cx="408.0" cy="309.0" r="1.4"/><circle cx="412.0" cy="314.0" r="1.4"/><circle cx="414.0" cy="318.0" r="1.4"/><circle cx="395.0" cy="320.0" r="1.4"/><circle cx="399.0" cy="325.0" r="1.4"/><circle cx="392.0" cy="328.0" r="1.4"/><circle cx="410.0" cy="318.0" r="1.4"/><circle cx="416.0" cy="320.0" r="1.4"/><circle cx="396.4" cy="315.5" r="1.4"/><circle cx="397.8" cy="317.5" r="1.4"/><circle cx="409.4" cy="310.0" r="1.4"/><circle cx="412.8" cy="313.4" r="1.4"/><circle cx="410.8" cy="316.8" r="1.4"/><circle cx="396.4" cy="327.8" r="1.4"/><circle cx="400.5" cy="329.2" r="1.4"/><circle cx="393.0" cy="335.3" r="1.4"/><circle cx="397.1" cy="334.0" r="1.4"/><circle cx="399.2" cy="337.4" r="1.4"/><circle cx="401.2" cy="338.0" r="1.4"/><circle cx="395.0" cy="339.4" r="1.4"/><circle cx="407.4" cy="330.5" r="1.4"/><circle cx="410.8" cy="327.8" r="1.4"/><circle cx="409.4" cy="331.9" r="1.4"/><circle cx="412.8" cy="336.0" r="1.4"/><circle cx="408.7" cy="337.4" r="1.4"/><circle cx="416.3" cy="329.2" r="1.4"/><circle cx="411.5" cy="339.4" r="1.4"/><circle cx="414.9" cy="334.6" r="1.4"/><circle cx="393.5" cy="342.0" r="1.4"/><circle cx="413.5" cy="331.0" r="1.4"/><circle cx="441.0" cy="373.0" r="1.4"/><circle cx="446.0" cy="374.0" r="1.4"/><circle cx="460.0" cy="368.0" r="1.4"/><circle cx="472.0" cy="368.0" r="1.4"/><circle cx="448.0" cy="386.0" r="1.4"/><circle cx="455.0" cy="389.0" r="1.4"/><circle cx="444.0" cy="380.0" r="1.4"/><circle cx="451.0" cy="378.0" r="1.4"/><circle cx="438.0" cy="385.0" r="1.4"/><circle cx="443.0" cy="390.0" r="1.4"/><circle cx="466.0" cy="372.0" r="1.4"/><circle cx="430.0" cy="392.0" r="1.4"/><circle cx="363.9" cy="376.1" r="1.4"/><circle cx="347.6" cy="370.0" r="1.4"/><circle cx="355.6" cy="374.3" r="1.4"/><circle cx="354.6" cy="366.6" r="1.4"/><circle cx="361.1" cy="369.4" r="1.4"/><circle cx="350.5" cy="367.6" r="1.4"/><circle cx="358.7" cy="379.6" r="1.4"/><circle cx="356.2" cy="386.3" r="1.4"/><circle cx="353.1" cy="370.1" r="1.4"/><circle cx="350.1" cy="367.2" r="1.4"/><circle cx="354.9" cy="370.0" r="1.4"/><circle cx="354.0" cy="366.6" r="1.4"/><circle cx="352.2" cy="379.3" r="1.4"/><circle cx="353.3" cy="386.1" r="1.4"/><circle cx="359.0" cy="375.0" r="1.4"/><circle cx="362.6" cy="378.9" r="1.4"/><circle cx="356.2" cy="368.9" r="1.4"/><circle cx="355.2" cy="373.7" r="1.4"/><circle cx="359.8" cy="380.5" r="1.4"/><circle cx="357.4" cy="387.1" r="1.4"/><circle cx="347.7" cy="386.1" r="1.4"/><circle cx="349.7" cy="390.0" r="1.4"/><circle cx="360.8" cy="377.6" r="1.4"/><circle cx="354.3" cy="377.8" r="1.4"/><circle cx="362.5" cy="387.4" r="1.4"/><circle cx="365.3" cy="387.6" r="1.4"/><circle cx="361.1" cy="386.2" r="1.4"/><circle cx="363.0" cy="372.8" r="1.4"/><circle cx="358.8" cy="380.7" r="1.4"/><circle cx="362.0" cy="371.9" r="1.4"/><circle cx="355.3" cy="369.0" r="1.4"/><circle cx="363.7" cy="388.4" r="1.4"/><circle cx="363.8" cy="364.7" r="1.4"/><circle cx="362.7" cy="386.2" r="1.4"/><circle cx="358.4" cy="385.8" r="1.4"/><circle cx="359.0" cy="391.1" r="1.4"/><circle cx="360.6" cy="376.4" r="1.4"/><circle cx="353.6" cy="378.0" r="1.4"/><circle cx="361.3" cy="390.7" r="1.4"/><circle cx="359.4" cy="372.7" r="1.4"/><circle cx="442.5" cy="368.4" r="1.4"/><circle cx="436.2" cy="373.8" r="1.4"/><circle cx="435.8" cy="386.7" r="1.4"/><circle cx="439.8" cy="364.7" r="1.4"/><circle cx="434.9" cy="382.2" r="1.4"/><circle cx="432.3" cy="390.6" r="1.4"/><circle cx="434.7" cy="389.4" r="1.4"/><circle cx="438.4" cy="363.0" r="1.4"/><circle cx="436.6" cy="377.5" r="1.4"/><circle cx="435.2" cy="389.5" r="1.4"/><circle cx="434.0" cy="383.3" r="1.4"/><circle cx="445.3" cy="362.5" r="1.4"/><circle cx="436.7" cy="370.2" r="1.4"/><circle cx="440.4" cy="386.0" r="1.4"/><circle cx="433.4" cy="378.0" r="1.4"/><circle cx="432.9" cy="387.2" r="1.4"/><circle cx="440.2" cy="372.4" r="1.4"/><circle cx="442.2" cy="383.3" r="1.4"/><circle cx="439.4" cy="384.6" r="1.4"/><circle cx="434.8" cy="380.9" r="1.4"/><circle cx="452.6" cy="372.5" r="1.4"/><circle cx="439.7" cy="387.0" r="1.4"/><circle cx="440.0" cy="378.6" r="1.4"/><circle cx="433.0" cy="384.5" r="1.4"/><circle cx="441.4" cy="374.3" r="1.4"/><circle cx="442.0" cy="371.8" r="1.4"/><circle cx="449.4" cy="366.5" r="1.4"/><circle cx="441.6" cy="373.0" r="1.4"/><circle cx="433.9" cy="363.1" r="1.4"/><circle cx="436.0" cy="370.5" r="1.4"/><circle cx="437.9" cy="379.4" r="1.4"/><circle cx="441.2" cy="374.9" r="1.4"/><circle cx="435.0" cy="386.7" r="1.4"/><circle cx="435.8" cy="384.3" r="1.4"/><circle cx="442.2" cy="370.3" r="1.4"/>
</g>
<g fill="#1a93ad"><circle cx="386.5" cy="297.7" r="1.4"/><circle cx="312.5" cy="319.2" r="1.4"/><circle cx="386.5" cy="325.2" r="1.4"/><circle cx="388.0" cy="330.4" r="1.4"/><circle cx="390.4" cy="331.3" r="1.4"/><circle cx="372.1" cy="331.3" r="1.4"/><circle cx="383.7" cy="335.2" r="1.4"/><circle cx="384.6" cy="337.1" r="1.4"/><circle cx="368.3" cy="338.1" r="1.4"/><circle cx="347.1" cy="342.5" r="1.4"/><circle cx="359.6" cy="343.8" r="1.4"/><circle cx="363.5" cy="341.9" r="1.4"/><circle cx="372.1" cy="341.9" r="1.4"/><circle cx="379.8" cy="341.9" r="1.4"/><circle cx="349.0" cy="347.3" r="1.4"/><circle cx="345.2" cy="348.7" r="1.4"/><circle cx="373.1" cy="347.7" r="1.4"/><circle cx="378.8" cy="347.7" r="1.4"/><circle cx="338.5" cy="355.4" r="1.4"/><circle cx="329.8" cy="358.8" r="1.4"/><circle cx="349.0" cy="358.7" r="1.4"/><circle cx="356.7" cy="360.8" r="1.4"/><circle cx="357.7" cy="354.4" r="1.4"/><circle cx="362.5" cy="353.8" r="1.4"/><circle cx="388.5" cy="343.6" r="1.4"/><circle cx="384.1" cy="332.9" r="1.4"/><circle cx="389.7" cy="334.4" r="1.4"/><circle cx="383.6" cy="346.0" r="1.4"/><circle cx="382.5" cy="341.7" r="1.4"/><circle cx="383.9" cy="357.0" r="1.4"/><circle cx="387.3" cy="344.7" r="1.4"/><circle cx="386.4" cy="328.6" r="1.4"/><circle cx="390.0" cy="359.9" r="1.4"/><circle cx="382.1" cy="347.1" r="1.4"/><circle cx="389.5" cy="356.6" r="1.4"/><circle cx="391.1" cy="358.6" r="1.4"/><circle cx="390.4" cy="333.0" r="1.4"/><circle cx="391.4" cy="361.3" r="1.4"/><circle cx="388.1" cy="357.7" r="1.4"/><circle cx="384.5" cy="342.6" r="1.4"/><circle cx="383.0" cy="343.9" r="1.4"/><circle cx="391.4" cy="351.8" r="1.4"/><circle cx="386.4" cy="338.7" r="1.4"/><circle cx="384.0" cy="342.5" r="1.4"/><circle cx="384.7" cy="344.5" r="1.4"/><circle cx="387.4" cy="341.7" r="1.4"/><circle cx="387.6" cy="342.0" r="1.4"/><circle cx="386.7" cy="344.4" r="1.4"/><circle cx="390.0" cy="358.2" r="1.4"/><circle cx="387.6" cy="353.6" r="1.4"/><circle cx="384.9" cy="333.5" r="1.4"/><circle cx="385.0" cy="332.7" r="1.4"/><circle cx="389.3" cy="359.0" r="1.4"/><circle cx="388.1" cy="335.4" r="1.4"/><circle cx="383.2" cy="354.1" r="1.4"/><circle cx="387.5" cy="332.9" r="1.4"/><circle cx="391.4" cy="353.5" r="1.4"/><circle cx="391.1" cy="361.2" r="1.4"/><circle cx="389.4" cy="359.4" r="1.4"/><circle cx="391.0" cy="333.4" r="1.4"/><circle cx="385.3" cy="346.2" r="1.4"/><circle cx="388.1" cy="333.1" r="1.4"/><circle cx="384.6" cy="354.1" r="1.4"/><circle cx="391.2" cy="344.1" r="1.4"/><circle cx="390.9" cy="357.6" r="1.4"/><circle cx="390.6" cy="334.4" r="1.4"/><circle cx="385.7" cy="350.4" r="1.4"/><circle cx="389.7" cy="356.1" r="1.4"/><circle cx="383.1" cy="350.9" r="1.4"/><circle cx="364.7" cy="354.4" r="1.4"/><circle cx="365.4" cy="356.5" r="1.4"/><circle cx="367.5" cy="358.1" r="1.4"/><circle cx="375.2" cy="359.7" r="1.4"/><circle cx="372.9" cy="361.7" r="1.4"/><circle cx="367.3" cy="351.9" r="1.4"/><circle cx="377.8" cy="356.4" r="1.4"/><circle cx="387.2" cy="351.3" r="1.4"/><circle cx="369.0" cy="353.7" r="1.4"/><circle cx="375.9" cy="359.9" r="1.4"/><circle cx="382.3" cy="353.6" r="1.4"/><circle cx="374.7" cy="359.3" r="1.4"/><circle cx="379.3" cy="352.2" r="1.4"/><circle cx="373.9" cy="351.3" r="1.4"/><circle cx="376.5" cy="353.5" r="1.4"/><circle cx="372.3" cy="354.7" r="1.4"/><circle cx="387.8" cy="351.9" r="1.4"/><circle cx="366.5" cy="352.4" r="1.4"/><circle cx="375.8" cy="355.7" r="1.4"/><circle cx="389.6" cy="358.8" r="1.4"/><circle cx="371.4" cy="352.4" r="1.4"/><circle cx="379.1" cy="360.0" r="1.4"/><circle cx="370.2" cy="359.3" r="1.4"/><circle cx="374.0" cy="361.3" r="1.4"/><circle cx="390.3" cy="352.9" r="1.4"/><circle cx="386.2" cy="357.4" r="1.4"/><circle cx="374.7" cy="356.6" r="1.4"/><circle cx="388.9" cy="356.2" r="1.4"/><circle cx="379.5" cy="356.3" r="1.4"/><circle cx="364.7" cy="359.2" r="1.4"/><circle cx="366.9" cy="360.7" r="1.4"/><circle cx="364.2" cy="357.1" r="1.4"/><circle cx="371.0" cy="358.4" r="1.4"/><circle cx="381.2" cy="359.1" r="1.4"/><circle cx="386.5" cy="361.7" r="1.4"/><circle cx="367.2" cy="353.5" r="1.4"/><circle cx="377.3" cy="361.0" r="1.4"/><circle cx="374.9" cy="353.2" r="1.4"/><circle cx="378.4" cy="354.4" r="1.4"/><circle cx="366.2" cy="359.7" r="1.4"/><circle cx="376.5" cy="360.1" r="1.4"/><circle cx="366.9" cy="354.6" r="1.4"/><circle cx="367.2" cy="360.1" r="1.4"/><circle cx="376.3" cy="357.5" r="1.4"/><circle cx="365.4" cy="355.8" r="1.4"/><circle cx="372.4" cy="350.9" r="1.4"/><circle cx="367.6" cy="361.2" r="1.4"/><circle cx="389.2" cy="361.1" r="1.4"/><circle cx="386.8" cy="345.6" r="1.4"/><circle cx="383.3" cy="355.1" r="1.4"/><circle cx="371.9" cy="355.0" r="1.4"/><circle cx="382.2" cy="345.8" r="1.4"/><circle cx="379.7" cy="342.1" r="1.4"/><circle cx="379.5" cy="356.1" r="1.4"/><circle cx="375.6" cy="359.3" r="1.4"/><circle cx="380.7" cy="338.3" r="1.4"/><circle cx="390.3" cy="334.0" r="1.4"/><circle cx="385.7" cy="354.3" r="1.4"/><circle cx="372.7" cy="350.1" r="1.4"/><circle cx="390.2" cy="356.3" r="1.4"/><circle cx="390.2" cy="345.3" r="1.4"/><circle cx="382.7" cy="338.3" r="1.4"/><circle cx="372.7" cy="359.1" r="1.4"/><circle cx="383.8" cy="359.6" r="1.4"/><circle cx="389.4" cy="359.1" r="1.4"/><circle cx="386.2" cy="357.6" r="1.4"/><circle cx="368.5" cy="351.3" r="1.4"/><circle cx="381.5" cy="349.9" r="1.4"/><circle cx="388.2" cy="359.4" r="1.4"/><circle cx="387.0" cy="354.2" r="1.4"/><circle cx="381.2" cy="348.9" r="1.4"/><circle cx="366.7" cy="353.0" r="1.4"/><circle cx="390.1" cy="343.8" r="1.4"/><circle cx="380.1" cy="355.7" r="1.4"/><circle cx="389.4" cy="356.7" r="1.4"/><circle cx="381.6" cy="351.8" r="1.4"/><circle cx="387.8" cy="355.8" r="1.4"/><circle cx="375.9" cy="359.6" r="1.4"/><circle cx="390.8" cy="332.3" r="1.4"/><circle cx="377.5" cy="340.5" r="1.4"/><circle cx="373.4" cy="346.8" r="1.4"/><circle cx="384.1" cy="351.0" r="1.4"/><circle cx="375.5" cy="353.4" r="1.4"/><circle cx="368.8" cy="352.2" r="1.4"/><circle cx="386.9" cy="345.3" r="1.4"/></g>
<g fill="#c4610f"><circle cx="422.7" cy="314.4" r="1.4"/><circle cx="421.9" cy="317.3" r="1.4"/><circle cx="424.6" cy="319.8" r="1.4"/><circle cx="426.2" cy="320.8" r="1.4"/><circle cx="430.6" cy="321.7" r="1.4"/><circle cx="420.4" cy="325.2" r="1.4"/><circle cx="419.0" cy="326.0" r="1.4"/><circle cx="420.4" cy="337.1" r="1.4"/><circle cx="419.4" cy="340.0" r="1.4"/><circle cx="423.8" cy="341.9" r="1.4"/><circle cx="426.7" cy="344.4" r="1.4"/><circle cx="425.6" cy="346.7" r="1.4"/><circle cx="430.6" cy="347.1" r="1.4"/><circle cx="441.2" cy="343.5" r="1.4"/><circle cx="448.7" cy="349.0" r="1.4"/><circle cx="479.0" cy="356.9" r="1.4"/><circle cx="428.0" cy="350.6" r="1.4"/><circle cx="435.8" cy="352.5" r="1.4"/><circle cx="438.7" cy="352.5" r="1.4"/><circle cx="434.4" cy="354.4" r="1.4"/><circle cx="430.0" cy="355.0" r="1.4"/><circle cx="439.6" cy="358.3" r="1.4"/><circle cx="438.7" cy="359.2" r="1.4"/><circle cx="434.8" cy="358.3" r="1.4"/><circle cx="417.6" cy="348.7" r="1.4"/><circle cx="420.5" cy="340.1" r="1.4"/><circle cx="419.6" cy="349.0" r="1.4"/><circle cx="420.1" cy="359.8" r="1.4"/><circle cx="419.6" cy="359.2" r="1.4"/><circle cx="419.1" cy="355.5" r="1.4"/><circle cx="418.4" cy="351.5" r="1.4"/><circle cx="421.6" cy="357.5" r="1.4"/><circle cx="417.8" cy="355.5" r="1.4"/><circle cx="418.3" cy="361.0" r="1.4"/><circle cx="419.2" cy="358.2" r="1.4"/><circle cx="418.4" cy="361.5" r="1.4"/><circle cx="420.5" cy="342.5" r="1.4"/><circle cx="422.5" cy="356.6" r="1.4"/><circle cx="421.5" cy="347.6" r="1.4"/><circle cx="418.8" cy="352.8" r="1.4"/><circle cx="422.2" cy="355.3" r="1.4"/><circle cx="421.4" cy="338.5" r="1.4"/><circle cx="420.0" cy="344.2" r="1.4"/><circle cx="420.4" cy="353.6" r="1.4"/><circle cx="420.8" cy="337.1" r="1.4"/><circle cx="419.2" cy="344.1" r="1.4"/><circle cx="419.8" cy="344.1" r="1.4"/><circle cx="418.6" cy="342.5" r="1.4"/><circle cx="420.2" cy="358.9" r="1.4"/><circle cx="418.7" cy="360.8" r="1.4"/><circle cx="421.2" cy="359.2" r="1.4"/><circle cx="422.4" cy="355.7" r="1.4"/><circle cx="422.5" cy="341.8" r="1.4"/><circle cx="421.0" cy="345.9" r="1.4"/><circle cx="418.4" cy="343.8" r="1.4"/><circle cx="421.1" cy="340.3" r="1.4"/><circle cx="418.1" cy="358.0" r="1.4"/><circle cx="422.0" cy="337.8" r="1.4"/><circle cx="418.6" cy="337.1" r="1.4"/><circle cx="425.2" cy="361.7" r="1.4"/><circle cx="419.7" cy="358.5" r="1.4"/><circle cx="423.9" cy="359.7" r="1.4"/><circle cx="426.0" cy="359.7" r="1.4"/><circle cx="419.0" cy="361.6" r="1.4"/><circle cx="428.9" cy="354.8" r="1.4"/><circle cx="417.6" cy="360.3" r="1.4"/><circle cx="428.8" cy="357.0" r="1.4"/><circle cx="431.0" cy="358.9" r="1.4"/><circle cx="424.9" cy="354.3" r="1.4"/><circle cx="424.5" cy="357.0" r="1.4"/><circle cx="423.8" cy="356.7" r="1.4"/><circle cx="429.8" cy="356.9" r="1.4"/><circle cx="418.9" cy="356.0" r="1.4"/><circle cx="429.6" cy="358.0" r="1.4"/><circle cx="422.6" cy="360.8" r="1.4"/><circle cx="431.8" cy="357.3" r="1.4"/><circle cx="419.5" cy="356.5" r="1.4"/><circle cx="419.1" cy="360.8" r="1.4"/><circle cx="427.8" cy="356.5" r="1.4"/><circle cx="433.2" cy="357.7" r="1.4"/><circle cx="428.5" cy="352.3" r="1.4"/><circle cx="428.1" cy="349.2" r="1.4"/><circle cx="424.4" cy="346.1" r="1.4"/><circle cx="425.7" cy="360.8" r="1.4"/><circle cx="418.1" cy="342.6" r="1.4"/><circle cx="427.2" cy="361.0" r="1.4"/><circle cx="422.7" cy="342.1" r="1.4"/><circle cx="424.9" cy="351.2" r="1.4"/><circle cx="427.8" cy="351.7" r="1.4"/><circle cx="417.6" cy="359.8" r="1.4"/><circle cx="433.6" cy="356.2" r="1.4"/><circle cx="419.7" cy="346.1" r="1.4"/><circle cx="424.5" cy="357.6" r="1.4"/><circle cx="420.3" cy="350.0" r="1.4"/><circle cx="428.0" cy="360.6" r="1.4"/><circle cx="418.2" cy="359.3" r="1.4"/><circle cx="420.8" cy="353.9" r="1.4"/><circle cx="417.8" cy="342.8" r="1.4"/><circle cx="419.1" cy="344.3" r="1.4"/><circle cx="430.8" cy="352.3" r="1.4"/><circle cx="432.8" cy="356.1" r="1.4"/><circle cx="437.8" cy="360.8" r="1.4"/><circle cx="419.8" cy="352.5" r="1.4"/><circle cx="418.2" cy="358.5" r="1.4"/></g>
<line x1="391.2" y1="257.5" x2="391.2" y2="397" stroke="#b5b5b5" stroke-width="0.8" stroke-dasharray="3,2.4"/>
<line x1="417.4" y1="257.5" x2="417.4" y2="397" stroke="#b5b5b5" stroke-width="0.8" stroke-dasharray="3,2.4"/>
<line x1="299.5" y1="361.3" x2="508.5" y2="361.3" stroke="#b5b5b5" stroke-width="0.8" stroke-dasharray="3,2.4"/>
<line x1="299.3" y1="398.0" x2="299.3" y2="256.9" stroke="#231f20" stroke-width="1"/>
<line x1="296.3" y1="397.5" x2="299.3" y2="397.5" stroke="#231f20" stroke-width="0.9"/>
<text x="293.7" y="400.5" font-size="8.2" text-anchor="end" fill="#231f20">0</text>
<line x1="296.3" y1="369.5" x2="299.3" y2="369.5" stroke="#231f20" stroke-width="0.9"/>
<text x="293.7" y="372.5" font-size="8.2" text-anchor="end" fill="#231f20">1</text>
<line x1="296.3" y1="341.5" x2="299.3" y2="341.5" stroke="#231f20" stroke-width="0.9"/>
<text x="293.7" y="344.5" font-size="8.2" text-anchor="end" fill="#231f20">2</text>
<line x1="296.3" y1="313.5" x2="299.3" y2="313.5" stroke="#231f20" stroke-width="0.9"/>
<text x="293.7" y="316.5" font-size="8.2" text-anchor="end" fill="#231f20">3</text>
<line x1="296.3" y1="285.5" x2="299.3" y2="285.5" stroke="#231f20" stroke-width="0.9"/>
<text x="293.7" y="288.5" font-size="8.2" text-anchor="end" fill="#231f20">4</text>
<line x1="296.3" y1="257.5" x2="299.3" y2="257.5" stroke="#231f20" stroke-width="0.9"/>
<text x="293.7" y="260.5" font-size="8.2" text-anchor="end" fill="#231f20">5</text>
<line x1="298.8" y1="397.5" x2="513.3" y2="397.5" stroke="#231f20" stroke-width="1"/>
<line x1="299.3" y1="397.5" x2="299.3" y2="400.5" stroke="#231f20" stroke-width="0.9"/>
<text x="299.3" y="410.3" font-size="8.2" text-anchor="middle" fill="#231f20">−4</text>
<line x1="351.8" y1="397.5" x2="351.8" y2="400.5" stroke="#231f20" stroke-width="0.9"/>
<text x="351.8" y="410.3" font-size="8.2" text-anchor="middle" fill="#231f20">−2</text>
<line x1="404.3" y1="397.5" x2="404.3" y2="400.5" stroke="#231f20" stroke-width="0.9"/>
<text x="404.3" y="410.3" font-size="8.2" text-anchor="middle" fill="#231f20">0</text>
<line x1="456.8" y1="397.5" x2="456.8" y2="400.5" stroke="#231f20" stroke-width="0.9"/>
<text x="456.8" y="410.3" font-size="8.2" text-anchor="middle" fill="#231f20">2</text>
<line x1="509.3" y1="397.5" x2="509.3" y2="400.5" stroke="#231f20" stroke-width="0.9"/>
<text x="509.3" y="410.3" font-size="8.2" text-anchor="middle" fill="#231f20">4</text>
<text x="405" y="248" font-size="10.6" text-anchor="middle" fill="#231f20" textLength="48" lengthAdjust="spacingAndGlyphs">CD4 T cells</text>
<text x="337.8" y="264.1" font-size="9.4" text-anchor="middle" fill="#231f20" textLength="54.3" lengthAdjust="spacingAndGlyphs">Higher in cured</text>
<text x="474.5" y="264.1" font-size="9.4" text-anchor="middle" fill="#231f20" textLength="65" lengthAdjust="spacingAndGlyphs">Higher in relapsed</text>
<text x="406.3" y="422.6" font-size="8.4" text-anchor="middle" fill="#231f20" textLength="55.4" lengthAdjust="spacingAndGlyphs">log2FoldChange</text>
<text transform="translate(282.6,325.6) rotate(-90)" x="0" y="0" font-size="8.8" text-anchor="middle" fill="#231f20" textLength="53" lengthAdjust="spacingAndGlyphs">-log10(p value)</text>
<text x="362" y="335.2" font-size="8.4" font-style="italic" fill="#231f20" textLength="16.3" lengthAdjust="spacingAndGlyphs">Ccr2</text>
<text x="7.5" y="445" font-size="10.3" text-anchor="start" font-weight="bold" font-style="normal" fill="#000" >C</text>
<rect x="63.8" y="453.00" width="216.3" height="52.00" fill="#fdf7ef"/>
<rect x="63.8" y="505.00" width="216.3" height="29.71" fill="#fcf0f1"/>
<rect x="63.8" y="534.71" width="216.3" height="22.29" fill="#fdebdd"/>
<rect x="63.8" y="564.43" width="216.3" height="14.86" fill="#e0f1f1"/>
<rect x="63.8" y="586.71" width="216.3" height="22.29" fill="#eef0e3"/>
<rect x="12.0" y="453.00" width="23.60" height="8.03" fill="#0f6a5f"/>
<line x1="5.5" y1="456.71" x2="10.5" y2="456.71" stroke="#231f20" stroke-width="0.8"/>
<line x1="61.199999999999996" y1="456.71" x2="64.7" y2="456.71" stroke="#231f20" stroke-width="0.8"/>
<text x="67.0" y="459.06" font-size="6.8" fill="#231f20" style="stroke-width:0.1px" textLength="89.8" lengthAdjust="spacingAndGlyphs">GSE9650<tspan dy="-0.9">_</tspan><tspan dy="0.9">naive</tspan><tspan dy="-0.9">_</tspan><tspan dy="0.9">vs</tspan><tspan dy="-0.9">_</tspan><tspan dy="0.9">EFF</tspan><tspan dy="-0.9">_</tspan><tspan dy="0.9">CD8</tspan><tspan dy="-0.9">_</tspan><tspan dy="0.9">Tcell</tspan><tspan dy="-0.9">_</tspan><tspan dy="0.9">DN</tspan></text>
<rect x="12.0" y="460.43" width="23.60" height="8.03" fill="#1f7d74"/>
<line x1="5.5" y1="464.14" x2="10.5" y2="464.14" stroke="#231f20" stroke-width="0.8"/>
<line x1="61.199999999999996" y1="464.14" x2="64.7" y2="464.14" stroke="#231f20" stroke-width="0.8"/>
<text x="67.0" y="466.49" font-size="6.8" fill="#231f20" style="stroke-width:0.1px" textLength="98.3" lengthAdjust="spacingAndGlyphs">KAECH<tspan dy="-0.9">_</tspan><tspan dy="0.9">naive</tspan><tspan dy="-0.9">_</tspan><tspan dy="0.9">vs</tspan><tspan dy="-0.9">_</tspan><tspan dy="0.9">day8</tspan><tspan dy="-0.9">_</tspan><tspan dy="0.9">EFF</tspan><tspan dy="-0.9">_</tspan><tspan dy="0.9">CD8</tspan><tspan dy="-0.9">_</tspan><tspan dy="0.9">Tcell</tspan><tspan dy="-0.9">_</tspan><tspan dy="0.9">DN</tspan></text>
<rect x="12.0" y="467.86" width="23.60" height="8.03" fill="#1f7d74"/>
<line x1="5.5" y1="471.57" x2="10.5" y2="471.57" stroke="#231f20" stroke-width="0.8"/>
<line x1="61.199999999999996" y1="471.57" x2="64.7" y2="471.57" stroke="#231f20" stroke-width="0.8"/>
<text x="67.0" y="473.92" font-size="6.8" fill="#231f20" style="stroke-width:0.1px" textLength="93.8" lengthAdjust="spacingAndGlyphs">GOLDRATH<tspan dy="-0.9">_</tspan><tspan dy="0.9">naive</tspan><tspan dy="-0.9">_</tspan><tspan dy="0.9">vs</tspan><tspan dy="-0.9">_</tspan><tspan dy="0.9">EFF</tspan><tspan dy="-0.9">_</tspan><tspan dy="0.9">CD8</tspan><tspan dy="-0.9">_</tspan><tspan dy="0.9">Tcell</tspan><tspan dy="-0.9">_</tspan><tspan dy="0.9">DN</tspan></text>
<rect x="12.0" y="475.29" width="24.10" height="8.03" fill="#1f7d74"/>
<rect x="35.6" y="475.29" width="23.80" height="8.03" fill="#97d4cb"/>
<line x1="5.5" y1="479.00" x2="10.5" y2="479.00" stroke="#231f20" stroke-width="0.8"/>
<line x1="61.199999999999996" y1="479.00" x2="64.7" y2="479.00" stroke="#231f20" stroke-width="0.8"/>
<text x="67.0" y="481.35" font-size="6.8" fill="#231f20" style="stroke-width:0.1px" textLength="100.5" lengthAdjust="spacingAndGlyphs">GSE9650<tspan dy="-0.9">_</tspan><tspan dy="0.9">naive</tspan><tspan dy="-0.9">_</tspan><tspan dy="0.9">vs</tspan><tspan dy="-0.9">_</tspan><tspan dy="0.9">memory</tspan><tspan dy="-0.9">_</tspan><tspan dy="0.9">CD8</tspan><tspan dy="-0.9">_</tspan><tspan dy="0.9">Tcell</tspan><tspan dy="-0.9">_</tspan><tspan dy="0.9">DN</tspan></text>
<rect x="12.0" y="482.71" width="24.10" height="8.03" fill="#1f7d74"/>
<rect x="35.6" y="482.71" width="23.80" height="7.43" fill="#97d4cb"/>
<line x1="5.5" y1="486.43" x2="10.5" y2="486.43" stroke="#231f20" stroke-width="0.8"/>
<line x1="61.199999999999996" y1="486.43" x2="64.7" y2="486.43" stroke="#231f20" stroke-width="0.8"/>
<text x="67.0" y="488.78" font-size="6.8" fill="#231f20" style="stroke-width:0.1px" textLength="95.7" lengthAdjust="spacingAndGlyphs">KAECH<tspan dy="-0.9">_</tspan><tspan dy="0.9">naive</tspan><tspan dy="-0.9">_</tspan><tspan dy="0.9">vs</tspan><tspan dy="-0.9">_</tspan><tspan dy="0.9">memory</tspan><tspan dy="-0.9">_</tspan><tspan dy="0.9">CD8</tspan><tspan dy="-0.9">_</tspan><tspan dy="0.9">Tcell</tspan><tspan dy="-0.9">_</tspan><tspan dy="0.9">DN</tspan></text>
<rect x="12.0" y="490.14" width="23.60" height="8.03" fill="#1f7d74"/>
<line x1="5.5" y1="493.86" x2="10.5" y2="493.86" stroke="#231f20" stroke-width="0.8"/>
<line x1="61.199999999999996" y1="493.86" x2="64.7" y2="493.86" stroke="#231f20" stroke-width="0.8"/>
<text x="67.0" y="496.21" font-size="6.8" fill="#231f20" style="stroke-width:0.1px" textLength="109.4" lengthAdjust="spacingAndGlyphs">GSE9650<tspan dy="-0.9">_</tspan><tspan dy="0.9">effector</tspan><tspan dy="-0.9">_</tspan><tspan dy="0.9">vs</tspan><tspan dy="-0.9">_</tspan><tspan dy="0.9">exhausted</tspan><tspan dy="-0.9">_</tspan><tspan dy="0.9">CD8</tspan><tspan dy="-0.9">_</tspan><tspan dy="0.9">Tcell</tspan><tspan dy="-0.9">_</tspan><tspan dy="0.9">UP</tspan></text>
<rect x="12.0" y="497.57" width="24.10" height="8.03" fill="#2e8a81"/>
<rect x="35.6" y="497.57" width="23.80" height="8.03" fill="#97d4cb"/>
<line x1="5.5" y1="501.29" x2="10.5" y2="501.29" stroke="#231f20" stroke-width="0.8"/>
<line x1="61.199999999999996" y1="501.29" x2="64.7" y2="501.29" stroke="#231f20" stroke-width="0.8"/>
<text x="67.0" y="503.64" font-size="6.8" fill="#231f20" style="stroke-width:0.1px" textLength="111.8" lengthAdjust="spacingAndGlyphs">GSE9650<tspan dy="-0.9">_</tspan><tspan dy="0.9">exhausted</tspan><tspan dy="-0.9">_</tspan><tspan dy="0.9">vs</tspan><tspan dy="-0.9">_</tspan><tspan dy="0.9">memory</tspan><tspan dy="-0.9">_</tspan><tspan dy="0.9">CD8</tspan><tspan dy="-0.9">_</tspan><tspan dy="0.9">Tcell</tspan><tspan dy="-0.9">_</tspan><tspan dy="0.9">DN</tspan></text>
<rect x="12.0" y="505.00" width="24.10" height="8.03" fill="#2e8a81"/>
<rect x="35.6" y="505.00" width="23.80" height="7.43" fill="#97d4cb"/>
<line x1="5.5" y1="508.71" x2="10.5" y2="508.71" stroke="#231f20" stroke-width="0.8"/>
<line x1="61.199999999999996" y1="508.71" x2="64.7" y2="508.71" stroke="#231f20" stroke-width="0.8"/>
<text x="67.0" y="511.06" font-size="6.8" fill="#231f20" style="stroke-width:0.1px" textLength="156.8" lengthAdjust="spacingAndGlyphs">GSE40666<tspan dy="-0.9">_</tspan><tspan dy="0.9">untreated</tspan><tspan dy="-0.9">_</tspan><tspan dy="0.9">vs</tspan><tspan dy="-0.9">_</tspan><tspan dy="0.9">IFNA</tspan><tspan dy="-0.9">_</tspan><tspan dy="0.9">STIM</tspan><tspan dy="-0.9">_</tspan><tspan dy="0.9">effector</tspan><tspan dy="-0.9">_</tspan><tspan dy="0.9">CD8</tspan><tspan dy="-0.9">_</tspan><tspan dy="0.9">Tcell</tspan><tspan dy="-0.9">_</tspan><tspan dy="0.9">90min</tspan><tspan dy="-0.9">_</tspan><tspan dy="0.9">UP</tspan></text>
<rect x="12.0" y="512.43" width="23.60" height="8.03" fill="#2e8a81"/>
<line x1="5.5" y1="516.14" x2="10.5" y2="516.14" stroke="#231f20" stroke-width="0.8"/>
<line x1="61.199999999999996" y1="516.14" x2="64.7" y2="516.14" stroke="#231f20" stroke-width="0.8"/>
<text x="67.0" y="518.49" font-size="6.8" fill="#231f20" style="stroke-width:0.1px" textLength="182.7" lengthAdjust="spacingAndGlyphs">GSE40666<tspan dy="-0.9">_</tspan><tspan dy="0.9">untreated</tspan><tspan dy="-0.9">_</tspan><tspan dy="0.9">vs</tspan><tspan dy="-0.9">_</tspan><tspan dy="0.9">IFNA</tspan><tspan dy="-0.9">_</tspan><tspan dy="0.9">STIM</tspan><tspan dy="-0.9">_</tspan><tspan dy="0.9">STAT4</tspan><tspan dy="-0.9">_</tspan><tspan dy="0.9">KO</tspan><tspan dy="-0.9">_</tspan><tspan dy="0.9">effector</tspan><tspan dy="-0.9">_</tspan><tspan dy="0.9">CD8</tspan><tspan dy="-0.9">_</tspan><tspan dy="0.9">Tcell</tspan><tspan dy="-0.9">_</tspan><tspan dy="0.9">90min</tspan><tspan dy="-0.9">_</tspan><tspan dy="0.9">UP</tspan></text>
<rect x="12.0" y="519.86" width="23.60" height="8.03" fill="#2e8a81"/>
<line x1="5.5" y1="523.57" x2="10.5" y2="523.57" stroke="#231f20" stroke-width="0.8"/>
<line x1="61.199999999999996" y1="523.57" x2="64.7" y2="523.57" stroke="#231f20" stroke-width="0.8"/>
<text x="67.0" y="525.92" font-size="6.8" fill="#231f20" style="stroke-width:0.1px" textLength="143.3" lengthAdjust="spacingAndGlyphs">GSE15930<tspan dy="-0.9">_</tspan><tspan dy="0.9">naive</tspan><tspan dy="-0.9">_</tspan><tspan dy="0.9">vs</tspan><tspan dy="-0.9">_</tspan><tspan dy="0.9">72H</tspan><tspan dy="-0.9">_</tspan><tspan dy="0.9">IN</tspan><tspan dy="-0.9">_</tspan><tspan dy="0.9">vitro</tspan><tspan dy="-0.9">_</tspan><tspan dy="0.9">STIM</tspan><tspan dy="-0.9">_</tspan><tspan dy="0.9">IL12</tspan><tspan dy="-0.9">_</tspan><tspan dy="0.9">CD8</tspan><tspan dy="-0.9">_</tspan><tspan dy="0.9">Tcell</tspan><tspan dy="-0.9">_</tspan><tspan dy="0.9">DN</tspan></text>
<rect x="12.0" y="527.29" width="24.10" height="8.03" fill="#5fb3a8"/>
<rect x="35.6" y="527.29" width="23.80" height="8.03" fill="#b5772a"/>
<line x1="5.5" y1="531.00" x2="10.5" y2="531.00" stroke="#231f20" stroke-width="0.8"/>
<line x1="61.199999999999996" y1="531.00" x2="64.7" y2="531.00" stroke="#231f20" stroke-width="0.8"/>
<text x="67.0" y="533.35" font-size="6.8" fill="#231f20" style="stroke-width:0.1px" textLength="143.3" lengthAdjust="spacingAndGlyphs">GSE15930<tspan dy="-0.9">_</tspan><tspan dy="0.9">naive</tspan><tspan dy="-0.9">_</tspan><tspan dy="0.9">vs</tspan><tspan dy="-0.9">_</tspan><tspan dy="0.9">24H</tspan><tspan dy="-0.9">_</tspan><tspan dy="0.9">IN</tspan><tspan dy="-0.9">_</tspan><tspan dy="0.9">vitro</tspan><tspan dy="-0.9">_</tspan><tspan dy="0.9">STIM</tspan><tspan dy="-0.9">_</tspan><tspan dy="0.9">IL12</tspan><tspan dy="-0.9">_</tspan><tspan dy="0.9">CD8</tspan><tspan dy="-0.9">_</tspan><tspan dy="0.9">Tcell</tspan><tspan dy="-0.9">_</tspan><tspan dy="0.9">DN</tspan></text>
<rect x="12.0" y="534.71" width="24.10" height="8.03" fill="#6bbcb0"/>
<rect x="35.6" y="534.71" width="23.80" height="8.03" fill="#97d4cb"/>
<line x1="5.5" y1="538.43" x2="10.5" y2="538.43" stroke="#231f20" stroke-width="0.8"/>
<line x1="61.199999999999996" y1="538.43" x2="64.7" y2="538.43" stroke="#231f20" stroke-width="0.8"/>
<text x="67.0" y="540.78" font-size="6.8" fill="#231f20" style="stroke-width:0.1px" textLength="115.1" lengthAdjust="spacingAndGlyphs">GSE26928<tspan dy="-0.9">_</tspan><tspan dy="0.9">naive</tspan><tspan dy="-0.9">_</tspan><tspan dy="0.9">vs</tspan><tspan dy="-0.9">_</tspan><tspan dy="0.9">EFF</tspan><tspan dy="-0.9">_</tspan><tspan dy="0.9">memory</tspan><tspan dy="-0.9">_</tspan><tspan dy="0.9">CD4</tspan><tspan dy="-0.9">_</tspan><tspan dy="0.9">Tcell</tspan><tspan dy="-0.9">_</tspan><tspan dy="0.9">DN</tspan></text>
<rect x="12.0" y="542.14" width="24.10" height="8.03" fill="#6bbcb0"/>
<rect x="35.6" y="542.14" width="23.80" height="8.03" fill="#97d4cb"/>
<line x1="5.5" y1="545.86" x2="10.5" y2="545.86" stroke="#231f20" stroke-width="0.8"/>
<line x1="61.199999999999996" y1="545.86" x2="64.7" y2="545.86" stroke="#231f20" stroke-width="0.8"/>
<text x="67.0" y="548.21" font-size="6.8" fill="#231f20" style="stroke-width:0.1px" textLength="94.6" lengthAdjust="spacingAndGlyphs">GSE32901<tspan dy="-0.9">_</tspan><tspan dy="0.9">naive</tspan><tspan dy="-0.9">_</tspan><tspan dy="0.9">vs</tspan><tspan dy="-0.9">_</tspan><tspan dy="0.9">TH1</tspan><tspan dy="-0.9">_</tspan><tspan dy="0.9">CD4</tspan><tspan dy="-0.9">_</tspan><tspan dy="0.9">Tcell</tspan><tspan dy="-0.9">_</tspan><tspan dy="0.9">DN</tspan></text>
<rect x="12.0" y="549.57" width="24.10" height="8.03" fill="#97d4cb"/>
<rect x="35.6" y="549.57" width="23.80" height="8.03" fill="#97d4cb"/>
<line x1="5.5" y1="553.29" x2="10.5" y2="553.29" stroke="#231f20" stroke-width="0.8"/>
<line x1="61.199999999999996" y1="553.29" x2="64.7" y2="553.29" stroke="#231f20" stroke-width="0.8"/>
<text x="67.0" y="555.64" font-size="6.8" fill="#231f20" style="stroke-width:0.1px" textLength="172.7" lengthAdjust="spacingAndGlyphs">GSE40274<tspan dy="-0.9">_</tspan><tspan dy="0.9">CTRL</tspan><tspan dy="-0.9">_</tspan><tspan dy="0.9">vs</tspan><tspan dy="-0.9">_</tspan><tspan dy="0.9">FOXP3</tspan><tspan dy="-0.9">_</tspan><tspan dy="0.9">and</tspan><tspan dy="-0.9">_</tspan><tspan dy="0.9">EOS</tspan><tspan dy="-0.9">_</tspan><tspan dy="0.9">transduced</tspan><tspan dy="-0.9">_</tspan><tspan dy="0.9">activated</tspan><tspan dy="-0.9">_</tspan><tspan dy="0.9">CD4</tspan><tspan dy="-0.9">_</tspan><tspan dy="0.9">Tcell</tspan><tspan dy="-0.9">_</tspan><tspan dy="0.9">UP</tspan></text>
<rect x="12.0" y="557.00" width="24.10" height="8.03" fill="#6bbcb0"/>
<rect x="35.6" y="557.00" width="23.80" height="8.03" fill="#a96b1f"/>
<line x1="5.5" y1="560.71" x2="10.5" y2="560.71" stroke="#231f20" stroke-width="0.8"/>
<line x1="61.199999999999996" y1="560.71" x2="64.7" y2="560.71" stroke="#231f20" stroke-width="0.8"/>
<text x="67.0" y="563.06" font-size="6.8" fill="#231f20" style="stroke-width:0.1px" textLength="117.2" lengthAdjust="spacingAndGlyphs">GSE22886<tspan dy="-0.9">_</tspan><tspan dy="0.9">naive</tspan><tspan dy="-0.9">_</tspan><tspan dy="0.9">CD4</tspan><tspan dy="-0.9">_</tspan><tspan dy="0.9">Tcell</tspan><tspan dy="-0.9">_</tspan><tspan dy="0.9">vs</tspan><tspan dy="-0.9">_</tspan><tspan dy="0.9">12h</tspan><tspan dy="-0.9">_</tspan><tspan dy="0.9">ACT</tspan><tspan dy="-0.9">_</tspan><tspan dy="0.9">TH2</tspan><tspan dy="-0.9">_</tspan><tspan dy="0.9">UP</tspan></text>
<rect x="12.0" y="564.43" width="24.10" height="8.03" fill="#6bbcb0"/>
<rect x="35.6" y="564.43" width="23.80" height="8.03" fill="#b5772a"/>
<line x1="5.5" y1="568.14" x2="10.5" y2="568.14" stroke="#231f20" stroke-width="0.8"/>
<line x1="61.199999999999996" y1="568.14" x2="64.7" y2="568.14" stroke="#231f20" stroke-width="0.8"/>
<text x="67.0" y="570.49" font-size="6.8" fill="#231f20" style="stroke-width:0.1px" textLength="90.3" lengthAdjust="spacingAndGlyphs">GSE6875<tspan dy="-0.9">_</tspan><tspan dy="0.9">WT</tspan><tspan dy="-0.9">_</tspan><tspan dy="0.9">vs</tspan><tspan dy="-0.9">_</tspan><tspan dy="0.9">FOXP3</tspan><tspan dy="-0.9">_</tspan><tspan dy="0.9">KO</tspan><tspan dy="-0.9">_</tspan><tspan dy="0.9">TREG</tspan><tspan dy="-0.9">_</tspan><tspan dy="0.9">UP</tspan></text>
<rect x="12.0" y="571.86" width="24.10" height="8.03" fill="#97d4cb"/>
<rect x="35.6" y="571.86" width="23.80" height="7.43" fill="#b5772a"/>
<line x1="5.5" y1="575.57" x2="10.5" y2="575.57" stroke="#231f20" stroke-width="0.8"/>
<line x1="61.199999999999996" y1="575.57" x2="64.7" y2="575.57" stroke="#231f20" stroke-width="0.8"/>
<text x="67.0" y="577.92" font-size="6.8" fill="#231f20" style="stroke-width:0.1px" textLength="115.3" lengthAdjust="spacingAndGlyphs">GSE7460<tspan dy="-0.9">_</tspan><tspan dy="0.9">CTRL</tspan><tspan dy="-0.9">_</tspan><tspan dy="0.9">vs</tspan><tspan dy="-0.9">_</tspan><tspan dy="0.9">FOXP3</tspan><tspan dy="-0.9">_</tspan><tspan dy="0.9">OVEREXPR</tspan><tspan dy="-0.9">_</tspan><tspan dy="0.9">TCONV</tspan><tspan dy="-0.9">_</tspan><tspan dy="0.9">DN</tspan></text>
<rect x="12.0" y="579.29" width="23.60" height="8.03" fill="#8a4a0e"/>
<line x1="5.5" y1="583.00" x2="10.5" y2="583.00" stroke="#231f20" stroke-width="0.8"/>
<line x1="61.199999999999996" y1="583.00" x2="64.7" y2="583.00" stroke="#231f20" stroke-width="0.8"/>
<text x="67.0" y="585.35" font-size="6.8" fill="#231f20" style="stroke-width:0.1px" textLength="134.6" lengthAdjust="spacingAndGlyphs">GSE13173<tspan dy="-0.9">_</tspan><tspan dy="0.9">untreated</tspan><tspan dy="-0.9">_</tspan><tspan dy="0.9">vs</tspan><tspan dy="-0.9">_</tspan><tspan dy="0.9">IL12</tspan><tspan dy="-0.9">_</tspan><tspan dy="0.9">treated</tspan><tspan dy="-0.9">_</tspan><tspan dy="0.9">ACT</tspan><tspan dy="-0.9">_</tspan><tspan dy="0.9">CD8</tspan><tspan dy="-0.9">_</tspan><tspan dy="0.9">Tcell</tspan><tspan dy="-0.9">_</tspan><tspan dy="0.9">UP</tspan></text>
<rect x="12.0" y="586.71" width="23.60" height="8.03" fill="#a86d21"/>
<line x1="5.5" y1="590.43" x2="10.5" y2="590.43" stroke="#231f20" stroke-width="0.8"/>
<line x1="61.199999999999996" y1="590.43" x2="64.7" y2="590.43" stroke="#231f20" stroke-width="0.8"/>
<text x="67.0" y="592.78" font-size="6.8" fill="#231f20" style="stroke-width:0.1px" textLength="134.6" lengthAdjust="spacingAndGlyphs">GSE19825<tspan dy="-0.9">_</tspan><tspan dy="0.9">naive</tspan><tspan dy="-0.9">_</tspan><tspan dy="0.9">vs</tspan><tspan dy="-0.9">_</tspan><tspan dy="0.9">IL2RAHIGH</tspan><tspan dy="-0.9">_</tspan><tspan dy="0.9">day3</tspan><tspan dy="-0.9">_</tspan><tspan dy="0.9">EFF</tspan><tspan dy="-0.9">_</tspan><tspan dy="0.9">CD8</tspan><tspan dy="-0.9">_</tspan><tspan dy="0.9">Tcell</tspan><tspan dy="-0.9">_</tspan><tspan dy="0.9">UP</tspan></text>
<rect x="12.0" y="594.14" width="23.60" height="8.03" fill="#a86d21"/>
<line x1="5.5" y1="597.86" x2="10.5" y2="597.86" stroke="#231f20" stroke-width="0.8"/>
<line x1="61.199999999999996" y1="597.86" x2="64.7" y2="597.86" stroke="#231f20" stroke-width="0.8"/>
<text x="67.0" y="600.21" font-size="6.8" fill="#231f20" style="stroke-width:0.1px" textLength="132.9" lengthAdjust="spacingAndGlyphs">GSE19825<tspan dy="-0.9">_</tspan><tspan dy="0.9">naive</tspan><tspan dy="-0.9">_</tspan><tspan dy="0.9">vs</tspan><tspan dy="-0.9">_</tspan><tspan dy="0.9">IL2RALOW</tspan><tspan dy="-0.9">_</tspan><tspan dy="0.9">day3</tspan><tspan dy="-0.9">_</tspan><tspan dy="0.9">EFF</tspan><tspan dy="-0.9">_</tspan><tspan dy="0.9">CD8</tspan><tspan dy="-0.9">_</tspan><tspan dy="0.9">Tcell</tspan><tspan dy="-0.9">_</tspan><tspan dy="0.9">UP</tspan></text>
<rect x="12.0" y="601.57" width="23.60" height="7.43" fill="#a86d21"/>
<line x1="5.5" y1="605.29" x2="10.5" y2="605.29" stroke="#231f20" stroke-width="0.8"/>
<line x1="61.199999999999996" y1="605.29" x2="64.7" y2="605.29" stroke="#231f20" stroke-width="0.8"/>
<text x="67.0" y="607.64" font-size="6.8" fill="#231f20" style="stroke-width:0.1px" textLength="106.4" lengthAdjust="spacingAndGlyphs">GSE19825<tspan dy="-0.9">_</tspan><tspan dy="0.9">naive</tspan><tspan dy="-0.9">_</tspan><tspan dy="0.9">vs</tspan><tspan dy="-0.9">_</tspan><tspan dy="0.9">day3</tspan><tspan dy="-0.9">_</tspan><tspan dy="0.9">EFF</tspan><tspan dy="-0.9">_</tspan><tspan dy="0.9">CD8</tspan><tspan dy="-0.9">_</tspan><tspan dy="0.9">Tcell</tspan><tspan dy="-0.9">_</tspan><tspan dy="0.9">UP</tspan></text>
<text x="278.2" y="459.31" font-size="7.4" font-weight="bold" text-anchor="end" fill="#231f20" textLength="50.6" lengthAdjust="spacingAndGlyphs">Effector/memory CD8</text>
<text x="278.2" y="533.60" font-size="7.4" font-weight="bold" text-anchor="end" fill="#231f20" textLength="48.7" lengthAdjust="spacingAndGlyphs">Cytokine stimulation</text>
<text x="278.2" y="541.03" font-size="7.4" font-weight="bold" text-anchor="end" fill="#231f20" textLength="47.6" lengthAdjust="spacingAndGlyphs">Activated CD4 T cell</text>
<text x="278.2" y="570.74" font-size="7.4" font-weight="bold" text-anchor="end" fill="#231f20" textLength="26.4" lengthAdjust="spacingAndGlyphs">Foxp3 Treg</text>
<text x="278.2" y="593.03" font-size="7.4" font-weight="bold" text-anchor="end" fill="#231f20" textLength="13.2" lengthAdjust="spacingAndGlyphs">Naive</text>
<rect x="10.5" y="452.4" width="50.40" height="157.10" fill="none" stroke="#231f20" stroke-width="1.2"/>
<line x1="23.80" y1="449.0" x2="23.80" y2="452.4" stroke="#231f20" stroke-width="0.8"/>
<line x1="23.80" y1="609.5" x2="23.80" y2="612.6" stroke="#231f20" stroke-width="0.8"/>
<line x1="47.50" y1="449.0" x2="47.50" y2="452.4" stroke="#231f20" stroke-width="0.8"/>
<line x1="47.50" y1="609.5" x2="47.50" y2="612.6" stroke="#231f20" stroke-width="0.8"/>
<text x="23.80" y="622.0" font-size="8.6" text-anchor="middle" fill="#231f20">CD8</text>
<text x="47.50" y="622.0" font-size="8.6" text-anchor="middle" fill="#231f20">CD4</text>
<rect x="348.7" y="453.00" width="165.5" height="49.51" fill="#fdf7ef"/>
<rect x="348.7" y="502.51" width="165.5" height="42.44" fill="#fcf0f1"/>
<rect x="348.7" y="544.95" width="165.5" height="35.36" fill="#fdebdd"/>
<rect x="348.7" y="580.31" width="165.5" height="21.22" fill="#eef0e3"/>
<rect x="297.7" y="453.00" width="21.30" height="7.67" fill="#0f6a5f"/>
<line x1="290.4" y1="456.54" x2="295.4" y2="456.54" stroke="#231f20" stroke-width="0.8"/>
<line x1="342.7" y1="456.54" x2="346.2" y2="456.54" stroke="#231f20" stroke-width="0.8"/>
<text x="348.5" y="458.89" font-size="6.8" fill="#231f20" style="stroke-width:0.1px" textLength="54.5" lengthAdjust="spacingAndGlyphs">BIOCARTA<tspan dy="-0.9">_</tspan><tspan dy="0.9">TCR</tspan><tspan dy="-0.9">_</tspan><tspan dy="0.9">pathway</tspan></text>
<rect x="297.7" y="460.07" width="21.30" height="7.67" fill="#1f7d74"/>
<line x1="290.4" y1="463.61" x2="295.4" y2="463.61" stroke="#231f20" stroke-width="0.8"/>
<line x1="342.7" y1="463.61" x2="346.2" y2="463.61" stroke="#231f20" stroke-width="0.8"/>
<text x="348.5" y="465.96" font-size="6.8" fill="#231f20" style="stroke-width:0.1px" textLength="40.2" lengthAdjust="spacingAndGlyphs">PID<tspan dy="-0.9">_</tspan><tspan dy="0.9">TCR</tspan><tspan dy="-0.9">_</tspan><tspan dy="0.9">pathway</tspan></text>
<rect x="297.7" y="467.15" width="21.30" height="7.67" fill="#1f7d74"/>
<line x1="290.4" y1="470.68" x2="295.4" y2="470.68" stroke="#231f20" stroke-width="0.8"/>
<line x1="342.7" y1="470.68" x2="346.2" y2="470.68" stroke="#231f20" stroke-width="0.8"/>
<text x="348.5" y="473.03" font-size="6.8" fill="#231f20" style="stroke-width:0.1px" textLength="52.9" lengthAdjust="spacingAndGlyphs">PID<tspan dy="-0.9">_</tspan><tspan dy="0.9">CD8</tspan><tspan dy="-0.9">_</tspan><tspan dy="0.9">TCR</tspan><tspan dy="-0.9">_</tspan><tspan dy="0.9">pathway</tspan></text>
<rect x="297.7" y="474.22" width="21.30" height="7.67" fill="#2e8a81"/>
<line x1="290.4" y1="477.75" x2="295.4" y2="477.75" stroke="#231f20" stroke-width="0.8"/>
<line x1="342.7" y1="477.75" x2="346.2" y2="477.75" stroke="#231f20" stroke-width="0.8"/>
<text x="348.5" y="480.10" font-size="6.8" fill="#231f20" style="stroke-width:0.1px" textLength="95.0" lengthAdjust="spacingAndGlyphs">KEGG<tspan dy="-0.9">_</tspan><tspan dy="0.9">T</tspan><tspan dy="-0.9">_</tspan><tspan dy="0.9">cell</tspan><tspan dy="-0.9">_</tspan><tspan dy="0.9">receptor</tspan><tspan dy="-0.9">_</tspan><tspan dy="0.9">signaling</tspan><tspan dy="-0.9">_</tspan><tspan dy="0.9">pathway</tspan></text>
<rect x="297.7" y="481.29" width="21.80" height="7.67" fill="#1f7d74"/>
<rect x="319.0" y="481.29" width="21.90" height="7.07" fill="#6cbdb1"/>
<line x1="290.4" y1="484.83" x2="295.4" y2="484.83" stroke="#231f20" stroke-width="0.8"/>
<line x1="342.7" y1="484.83" x2="346.2" y2="484.83" stroke="#231f20" stroke-width="0.8"/>
<text x="348.5" y="487.18" font-size="6.8" fill="#231f20" style="stroke-width:0.1px" textLength="89.8" lengthAdjust="spacingAndGlyphs">GO<tspan dy="-0.9">_</tspan><tspan dy="0.9">T</tspan><tspan dy="-0.9">_</tspan><tspan dy="0.9">cell</tspan><tspan dy="-0.9">_</tspan><tspan dy="0.9">receptor</tspan><tspan dy="-0.9">_</tspan><tspan dy="0.9">signaling</tspan><tspan dy="-0.9">_</tspan><tspan dy="0.9">pathway</tspan></text>
<rect x="297.7" y="488.36" width="21.30" height="7.67" fill="#2e8a81"/>
<line x1="290.4" y1="491.90" x2="295.4" y2="491.90" stroke="#231f20" stroke-width="0.8"/>
<line x1="342.7" y1="491.90" x2="346.2" y2="491.90" stroke="#231f20" stroke-width="0.8"/>
<text x="348.5" y="494.25" font-size="6.8" fill="#231f20" style="stroke-width:0.1px" textLength="83.8" lengthAdjust="spacingAndGlyphs">PID<tspan dy="-0.9">_</tspan><tspan dy="0.9">CD8</tspan><tspan dy="-0.9">_</tspan><tspan dy="0.9">TCR</tspan><tspan dy="-0.9">_</tspan><tspan dy="0.9">downstream</tspan><tspan dy="-0.9">_</tspan><tspan dy="0.9">pathway</tspan></text>
<rect x="297.7" y="495.44" width="21.80" height="7.67" fill="#1f7d74"/>
<rect x="319.0" y="495.44" width="21.90" height="7.07" fill="#6cbdb1"/>
<line x1="290.4" y1="498.97" x2="295.4" y2="498.97" stroke="#231f20" stroke-width="0.8"/>
<line x1="342.7" y1="498.97" x2="346.2" y2="498.97" stroke="#231f20" stroke-width="0.8"/>
<text x="348.5" y="501.32" font-size="6.8" fill="#231f20" style="stroke-width:0.1px" textLength="59.8" lengthAdjust="spacingAndGlyphs">GO<tspan dy="-0.9">_</tspan><tspan dy="0.9">lymphocyte</tspan><tspan dy="-0.9">_</tspan><tspan dy="0.9">activation</tspan></text>
<rect x="297.7" y="502.51" width="21.30" height="7.67" fill="#1f7d74"/>
<line x1="290.4" y1="506.05" x2="295.4" y2="506.05" stroke="#231f20" stroke-width="0.8"/>
<line x1="342.7" y1="506.05" x2="346.2" y2="506.05" stroke="#231f20" stroke-width="0.8"/>
<text x="348.5" y="508.40" font-size="6.8" fill="#231f20" style="stroke-width:0.1px" textLength="41.3" lengthAdjust="spacingAndGlyphs">PID<tspan dy="-0.9">_</tspan><tspan dy="0.9">IL2</tspan><tspan dy="-0.9">_</tspan><tspan dy="0.9">1pathway</tspan></text>
<rect x="297.7" y="509.58" width="21.30" height="7.67" fill="#2e8a81"/>
<line x1="290.4" y1="513.12" x2="295.4" y2="513.12" stroke="#231f20" stroke-width="0.8"/>
<line x1="342.7" y1="513.12" x2="346.2" y2="513.12" stroke="#231f20" stroke-width="0.8"/>
<text x="348.5" y="515.47" font-size="6.8" fill="#231f20" style="stroke-width:0.1px" textLength="44.8" lengthAdjust="spacingAndGlyphs">PID<tspan dy="-0.9">_</tspan><tspan dy="0.9">IL12</tspan><tspan dy="-0.9">_</tspan><tspan dy="0.9">2pathway</tspan></text>
<rect x="297.7" y="516.65" width="21.30" height="7.67" fill="#2e8a81"/>
<line x1="290.4" y1="520.19" x2="295.4" y2="520.19" stroke="#231f20" stroke-width="0.8"/>
<line x1="342.7" y1="520.19" x2="346.2" y2="520.19" stroke="#231f20" stroke-width="0.8"/>
<text x="348.5" y="522.54" font-size="6.8" fill="#231f20" style="stroke-width:0.1px" textLength="43.0" lengthAdjust="spacingAndGlyphs">PID<tspan dy="-0.9">_</tspan><tspan dy="0.9">IFNG</tspan><tspan dy="-0.9">_</tspan><tspan dy="0.9">pathway</tspan></text>
<rect x="297.7" y="523.73" width="21.30" height="7.67" fill="#2e8a81"/>
<line x1="290.4" y1="527.26" x2="295.4" y2="527.26" stroke="#231f20" stroke-width="0.8"/>
<line x1="342.7" y1="527.26" x2="346.2" y2="527.26" stroke="#231f20" stroke-width="0.8"/>
<text x="348.5" y="529.61" font-size="6.8" fill="#231f20" style="stroke-width:0.1px" textLength="88.5" lengthAdjust="spacingAndGlyphs">Hallmark<tspan dy="-0.9">_</tspan><tspan dy="0.9">interferon</tspan><tspan dy="-0.9">_</tspan><tspan dy="0.9">gamma</tspan><tspan dy="-0.9">_</tspan><tspan dy="0.9">response</tspan></text>
<rect x="297.7" y="530.80" width="21.80" height="7.67" fill="#5eb1a6"/>
<rect x="319.0" y="530.80" width="21.90" height="7.07" fill="#6cbdb1"/>
<line x1="290.4" y1="534.34" x2="295.4" y2="534.34" stroke="#231f20" stroke-width="0.8"/>
<line x1="342.7" y1="534.34" x2="346.2" y2="534.34" stroke="#231f20" stroke-width="0.8"/>
<text x="348.5" y="536.69" font-size="6.8" fill="#231f20" style="stroke-width:0.1px" textLength="83.8" lengthAdjust="spacingAndGlyphs">Hallmark<tspan dy="-0.9">_</tspan><tspan dy="0.9">interferon</tspan><tspan dy="-0.9">_</tspan><tspan dy="0.9">alpha</tspan><tspan dy="-0.9">_</tspan><tspan dy="0.9">response</tspan></text>
<rect x="297.7" y="537.87" width="21.30" height="7.67" fill="#5eb1a6"/>
<line x1="290.4" y1="541.41" x2="295.4" y2="541.41" stroke="#231f20" stroke-width="0.8"/>
<line x1="342.7" y1="541.41" x2="346.2" y2="541.41" stroke="#231f20" stroke-width="0.8"/>
<text x="348.5" y="543.76" font-size="6.8" fill="#231f20" style="stroke-width:0.1px" textLength="116.3" lengthAdjust="spacingAndGlyphs">GO<tspan dy="-0.9">_</tspan><tspan dy="0.9">regulation</tspan><tspan dy="-0.9">_</tspan><tspan dy="0.9">of</tspan><tspan dy="-0.9">_</tspan><tspan dy="0.9">response</tspan><tspan dy="-0.9">_</tspan><tspan dy="0.9">to</tspan><tspan dy="-0.9">_</tspan><tspan dy="0.9">interferon</tspan><tspan dy="-0.9">_</tspan><tspan dy="0.9">gamma</tspan></text>
<rect x="297.7" y="544.95" width="21.30" height="7.67" fill="#1f7d74"/>
<line x1="290.4" y1="548.48" x2="295.4" y2="548.48" stroke="#231f20" stroke-width="0.8"/>
<line x1="342.7" y1="548.48" x2="346.2" y2="548.48" stroke="#231f20" stroke-width="0.8"/>
<text x="348.5" y="550.83" font-size="6.8" fill="#231f20" style="stroke-width:0.1px" textLength="66.1" lengthAdjust="spacingAndGlyphs">Hallmark<tspan dy="-0.9">_</tspan><tspan dy="0.9">MTORC1</tspan><tspan dy="-0.9">_</tspan><tspan dy="0.9">signaling</tspan></text>
<rect x="297.7" y="552.02" width="21.30" height="7.67" fill="#1f7d74"/>
<line x1="290.4" y1="555.55" x2="295.4" y2="555.55" stroke="#231f20" stroke-width="0.8"/>
<line x1="342.7" y1="555.55" x2="346.2" y2="555.55" stroke="#231f20" stroke-width="0.8"/>
<text x="348.5" y="557.90" font-size="6.8" fill="#231f20" style="stroke-width:0.1px" textLength="60.2" lengthAdjust="spacingAndGlyphs">Hallmark<tspan dy="-0.9">_</tspan><tspan dy="0.9">MYC</tspan><tspan dy="-0.9">_</tspan><tspan dy="0.9">targets</tspan><tspan dy="-0.9">_</tspan><tspan dy="0.9">V1</tspan></text>
<rect x="297.7" y="559.09" width="21.30" height="7.67" fill="#1f7d74"/>
<line x1="290.4" y1="562.63" x2="295.4" y2="562.63" stroke="#231f20" stroke-width="0.8"/>
<line x1="342.7" y1="562.63" x2="346.2" y2="562.63" stroke="#231f20" stroke-width="0.8"/>
<text x="348.5" y="564.98" font-size="6.8" fill="#231f20" style="stroke-width:0.1px" textLength="84.5" lengthAdjust="spacingAndGlyphs">Hallmark<tspan dy="-0.9">_</tspan><tspan dy="0.9">PI3K</tspan><tspan dy="-0.9">_</tspan><tspan dy="0.9">AKT</tspan><tspan dy="-0.9">_</tspan><tspan dy="0.9">MTOR</tspan><tspan dy="-0.9">_</tspan><tspan dy="0.9">signaling</tspan></text>
<rect x="297.7" y="566.16" width="21.30" height="7.67" fill="#5eb1a6"/>
<line x1="290.4" y1="569.70" x2="295.4" y2="569.70" stroke="#231f20" stroke-width="0.8"/>
<line x1="342.7" y1="569.70" x2="346.2" y2="569.70" stroke="#231f20" stroke-width="0.8"/>
<text x="348.5" y="572.05" font-size="6.8" fill="#231f20" style="stroke-width:0.1px" textLength="74.0" lengthAdjust="spacingAndGlyphs">KEGG<tspan dy="-0.9">_</tspan><tspan dy="0.9">MTOR</tspan><tspan dy="-0.9">_</tspan><tspan dy="0.9">signaling</tspan><tspan dy="-0.9">_</tspan><tspan dy="0.9">pathway</tspan></text>
<rect x="297.7" y="573.24" width="21.80" height="7.67" fill="#5eb1a6"/>
<rect x="319.0" y="573.24" width="21.90" height="7.07" fill="#6cbdb1"/>
<line x1="290.4" y1="576.77" x2="295.4" y2="576.77" stroke="#231f20" stroke-width="0.8"/>
<line x1="342.7" y1="576.77" x2="346.2" y2="576.77" stroke="#231f20" stroke-width="0.8"/>
<text x="348.5" y="579.12" font-size="6.8" fill="#231f20" style="stroke-width:0.1px" textLength="69.9" lengthAdjust="spacingAndGlyphs">Hallmark<tspan dy="-0.9">_</tspan><tspan dy="0.9">IL2</tspan><tspan dy="-0.9">_</tspan><tspan dy="0.9">STAT5</tspan><tspan dy="-0.9">_</tspan><tspan dy="0.9">signaling</tspan></text>
<rect x="297.7" y="580.31" width="21.30" height="7.67" fill="#1f7d74"/>
<line x1="290.4" y1="583.85" x2="295.4" y2="583.85" stroke="#231f20" stroke-width="0.8"/>
<line x1="342.7" y1="583.85" x2="346.2" y2="583.85" stroke="#231f20" stroke-width="0.8"/>
<text x="348.5" y="586.20" font-size="6.8" fill="#231f20" style="stroke-width:0.1px" textLength="82.7" lengthAdjust="spacingAndGlyphs">Hallmark<tspan dy="-0.9">_</tspan><tspan dy="0.9">oxidative</tspan><tspan dy="-0.9">_</tspan><tspan dy="0.9">phosphorylation</tspan></text>
<rect x="297.7" y="587.38" width="21.30" height="7.67" fill="#6cbdb1"/>
<line x1="290.4" y1="590.92" x2="295.4" y2="590.92" stroke="#231f20" stroke-width="0.8"/>
<line x1="342.7" y1="590.92" x2="346.2" y2="590.92" stroke="#231f20" stroke-width="0.8"/>
<text x="348.5" y="593.27" font-size="6.8" fill="#231f20" style="stroke-width:0.1px" textLength="44.0" lengthAdjust="spacingAndGlyphs">Hallmark<tspan dy="-0.9">_</tspan><tspan dy="0.9">glycolysis</tspan></text>
<rect x="297.7" y="594.45" width="21.30" height="7.07" fill="#2e8a81"/>
<line x1="290.4" y1="597.99" x2="295.4" y2="597.99" stroke="#231f20" stroke-width="0.8"/>
<line x1="342.7" y1="597.99" x2="346.2" y2="597.99" stroke="#231f20" stroke-width="0.8"/>
<text x="348.5" y="600.34" font-size="6.8" fill="#231f20" style="stroke-width:0.1px" textLength="63.7" lengthAdjust="spacingAndGlyphs">GO<tspan dy="-0.9">_</tspan><tspan dy="0.9">mitochondrial</tspan><tspan dy="-0.9">_</tspan><tspan dy="0.9">transport</tspan></text>
<rect x="319.0" y="601.53" width="21.90" height="7.07" fill="#8a4a0e"/>
<line x1="290.4" y1="605.06" x2="295.4" y2="605.06" stroke="#231f20" stroke-width="0.8"/>
<line x1="342.7" y1="605.06" x2="346.2" y2="605.06" stroke="#231f20" stroke-width="0.8"/>
<text x="348.5" y="607.41" font-size="6.8" fill="#231f20" style="stroke-width:0.1px" textLength="75.8" lengthAdjust="spacingAndGlyphs">Reactome<tspan dy="-0.9">_</tspan><tspan dy="0.9">signaling</tspan><tspan dy="-0.9">_</tspan><tspan dy="0.9">by</tspan><tspan dy="-0.9">_</tspan><tspan dy="0.9">NOTCH1</tspan></text>
<text x="510.8" y="459.14" font-size="7.4" font-weight="bold" text-anchor="end" fill="#231f20" textLength="58.9" lengthAdjust="spacingAndGlyphs">TCR and T cell activation</text>
<text x="510.8" y="508.65" font-size="7.4" font-weight="bold" text-anchor="end" fill="#231f20" textLength="20.9" lengthAdjust="spacingAndGlyphs">Cytokine</text>
<text x="510.8" y="551.08" font-size="7.4" font-weight="bold" text-anchor="end" fill="#231f20" textLength="38.7" lengthAdjust="spacingAndGlyphs">AKT/mTOR/MYC</text>
<text x="510.8" y="586.45" font-size="7.4" font-weight="bold" text-anchor="end" fill="#231f20" textLength="27.2" lengthAdjust="spacingAndGlyphs">Metabolism</text>
<rect x="295.4" y="452.4" width="47.00" height="156.70" fill="none" stroke="#231f20" stroke-width="1.2"/>
<line x1="308.35" y1="449.0" x2="308.35" y2="452.4" stroke="#231f20" stroke-width="0.8"/>
<line x1="308.35" y1="609.1" x2="308.35" y2="612.2" stroke="#231f20" stroke-width="0.8"/>
<line x1="329.95" y1="449.0" x2="329.95" y2="452.4" stroke="#231f20" stroke-width="0.8"/>
<line x1="329.95" y1="609.1" x2="329.95" y2="612.2" stroke="#231f20" stroke-width="0.8"/>
<text x="308.35" y="621.6" font-size="8.6" text-anchor="middle" fill="#231f20">CD8</text>
<text x="329.95" y="621.6" font-size="8.6" text-anchor="middle" fill="#231f20">CD4</text>
<rect x="151.00" y="625.3" width="3.24" height="6.2000000000000455" fill="rgb(160,93,16)"/>
<rect x="154.14" y="625.3" width="3.24" height="6.2000000000000455" fill="rgb(172,105,26)"/>
<rect x="157.28" y="625.3" width="3.24" height="6.2000000000000455" fill="rgb(184,119,40)"/>
<rect x="160.41" y="625.3" width="3.24" height="6.2000000000000455" fill="rgb(199,142,64)"/>
<rect x="163.55" y="625.3" width="3.24" height="6.2000000000000455" fill="rgb(214,165,88)"/>
<rect x="166.69" y="625.3" width="3.24" height="6.2000000000000455" fill="rgb(227,194,132)"/>
<rect x="169.82" y="625.3" width="3.24" height="6.2000000000000455" fill="rgb(240,221,176)"/>
<rect x="172.96" y="625.3" width="3.24" height="6.2000000000000455" fill="rgb(246,241,225)"/>
<rect x="176.10" y="625.3" width="3.24" height="6.2000000000000455" fill="rgb(233,244,237)"/>
<rect x="179.24" y="625.3" width="3.24" height="6.2000000000000455" fill="rgb(209,237,230)"/>
<rect x="182.38" y="625.3" width="3.24" height="6.2000000000000455" fill="rgb(177,224,214)"/>
<rect x="185.51" y="625.3" width="3.24" height="6.2000000000000455" fill="rgb(142,207,196)"/>
<rect x="188.65" y="625.3" width="3.24" height="6.2000000000000455" fill="rgb(107,190,177)"/>
<rect x="191.79" y="625.3" width="3.24" height="6.2000000000000455" fill="rgb(74,168,155)"/>
<rect x="194.92" y="625.3" width="3.24" height="6.2000000000000455" fill="rgb(42,145,132)"/>
<rect x="198.06" y="625.3" width="3.24" height="6.2000000000000455" fill="rgb(22,116,104)"/>
<rect x="151.0" y="625.3" width="50.19999999999999" height="6.2000000000000455" fill="none" stroke="#3a3a3a" stroke-width="0.6"/>
<line x1="151.30" y1="631.5" x2="151.30" y2="634.3" stroke="#231f20" stroke-width="0.8"/>
<line x1="160.60" y1="631.5" x2="160.60" y2="634.3" stroke="#231f20" stroke-width="0.8"/>
<line x1="170.10" y1="631.5" x2="170.10" y2="634.3" stroke="#231f20" stroke-width="0.8"/>
<line x1="179.30" y1="631.5" x2="179.30" y2="634.3" stroke="#231f20" stroke-width="0.8"/>
<line x1="188.50" y1="631.5" x2="188.50" y2="634.3" stroke="#231f20" stroke-width="0.8"/>
<line x1="197.70" y1="631.5" x2="197.70" y2="634.3" stroke="#231f20" stroke-width="0.8"/>
<text x="151.30" y="643.5" font-size="7.8" text-anchor="middle" fill="#231f20" textLength="6.8" lengthAdjust="spacingAndGlyphs">−2</text>
<text x="160.60" y="643.5" font-size="7.8" text-anchor="middle" fill="#231f20" textLength="6.8" lengthAdjust="spacingAndGlyphs">−1</text>
<text x="170.10" y="643.5" font-size="7.8" text-anchor="middle" fill="#231f20" textLength="3.4" lengthAdjust="spacingAndGlyphs">0</text>
<text x="179.30" y="643.5" font-size="7.8" text-anchor="middle" fill="#231f20" textLength="3.4" lengthAdjust="spacingAndGlyphs">1</text>
<text x="188.50" y="643.5" font-size="7.8" text-anchor="middle" fill="#231f20" textLength="3.4" lengthAdjust="spacingAndGlyphs">2</text>
<text x="197.70" y="643.5" font-size="7.8" text-anchor="middle" fill="#231f20" textLength="3.4" lengthAdjust="spacingAndGlyphs">3</text>
<text x="147.2" y="630.9" font-size="7" text-anchor="end" fill="#231f20" style="stroke-width:0.04px" textLength="40.5" lengthAdjust="spacingAndGlyphs">Relapsed enriched</text>
<text x="204.6" y="630.9" font-size="7" fill="#231f20" style="stroke-width:0.04px" textLength="33.9" lengthAdjust="spacingAndGlyphs">Cured enriched</text>
<text x="176.2" y="651.0" font-size="7" text-anchor="middle" fill="#231f20" style="stroke-width:0.04px" textLength="89.5" lengthAdjust="spacingAndGlyphs">Normalized enrichment score (p &lt; 0.05)</text>
<rect x="392.00" y="625.3" width="3.26" height="6.2000000000000455" fill="rgb(160,93,16)"/>
<rect x="395.16" y="625.3" width="3.26" height="6.2000000000000455" fill="rgb(172,105,26)"/>
<rect x="398.32" y="625.3" width="3.26" height="6.2000000000000455" fill="rgb(184,119,40)"/>
<rect x="401.49" y="625.3" width="3.26" height="6.2000000000000455" fill="rgb(199,142,64)"/>
<rect x="404.65" y="625.3" width="3.26" height="6.2000000000000455" fill="rgb(214,165,88)"/>
<rect x="407.81" y="625.3" width="3.26" height="6.2000000000000455" fill="rgb(227,194,132)"/>
<rect x="410.98" y="625.3" width="3.26" height="6.2000000000000455" fill="rgb(240,221,176)"/>
<rect x="414.14" y="625.3" width="3.26" height="6.2000000000000455" fill="rgb(246,241,225)"/>
<rect x="417.30" y="625.3" width="3.26" height="6.2000000000000455" fill="rgb(233,244,237)"/>
<rect x="420.46" y="625.3" width="3.26" height="6.2000000000000455" fill="rgb(209,237,230)"/>
<rect x="423.62" y="625.3" width="3.26" height="6.2000000000000455" fill="rgb(177,224,214)"/>
<rect x="426.79" y="625.3" width="3.26" height="6.2000000000000455" fill="rgb(142,207,196)"/>
<rect x="429.95" y="625.3" width="3.26" height="6.2000000000000455" fill="rgb(107,190,177)"/>
<rect x="433.11" y="625.3" width="3.26" height="6.2000000000000455" fill="rgb(74,168,155)"/>
<rect x="436.28" y="625.3" width="3.26" height="6.2000000000000455" fill="rgb(42,145,132)"/>
<rect x="439.44" y="625.3" width="3.26" height="6.2000000000000455" fill="rgb(22,116,104)"/>
<rect x="392.0" y="625.3" width="50.60000000000002" height="6.2000000000000455" fill="none" stroke="#3a3a3a" stroke-width="0.6"/>
<line x1="395.40" y1="631.5" x2="395.40" y2="634.3" stroke="#231f20" stroke-width="0.8"/>
<line x1="401.00" y1="631.5" x2="401.00" y2="634.3" stroke="#231f20" stroke-width="0.8"/>
<line x1="406.50" y1="631.5" x2="406.50" y2="634.3" stroke="#231f20" stroke-width="0.8"/>
<line x1="411.80" y1="631.5" x2="411.80" y2="634.3" stroke="#231f20" stroke-width="0.8"/>
<line x1="417.00" y1="631.5" x2="417.00" y2="634.3" stroke="#231f20" stroke-width="0.8"/>
<line x1="422.30" y1="631.5" x2="422.30" y2="634.3" stroke="#231f20" stroke-width="0.8"/>
<line x1="427.70" y1="631.5" x2="427.70" y2="634.3" stroke="#231f20" stroke-width="0.8"/>
<line x1="433.00" y1="631.5" x2="433.00" y2="634.3" stroke="#231f20" stroke-width="0.8"/>
<line x1="438.50" y1="631.5" x2="438.50" y2="634.3" stroke="#231f20" stroke-width="0.8"/>
<text x="400.80" y="643.5" font-size="7.8" text-anchor="middle" fill="#231f20" textLength="6.8" lengthAdjust="spacingAndGlyphs">−1</text>
<text x="411.60" y="643.5" font-size="7.8" text-anchor="middle" fill="#231f20" textLength="3.4" lengthAdjust="spacingAndGlyphs">0</text>
<text x="422.50" y="643.5" font-size="7.8" text-anchor="middle" fill="#231f20" textLength="3.4" lengthAdjust="spacingAndGlyphs">1</text>
<text x="433.10" y="643.5" font-size="7.8" text-anchor="middle" fill="#231f20" textLength="3.4" lengthAdjust="spacingAndGlyphs">2</text>
<text x="388.2" y="630.9" font-size="7" text-anchor="end" fill="#231f20" style="stroke-width:0.04px" textLength="40.5" lengthAdjust="spacingAndGlyphs">Relapsed enriched</text>
<text x="445.6" y="630.9" font-size="7" fill="#231f20" style="stroke-width:0.04px" textLength="33.9" lengthAdjust="spacingAndGlyphs">Cured enriched</text>
<text x="417.5" y="651.0" font-size="7" text-anchor="middle" fill="#231f20" style="stroke-width:0.04px" textLength="89.5" lengthAdjust="spacingAndGlyphs">Normalized enrichment score (p &lt; 0.05)</text>
</svg></body></html>
